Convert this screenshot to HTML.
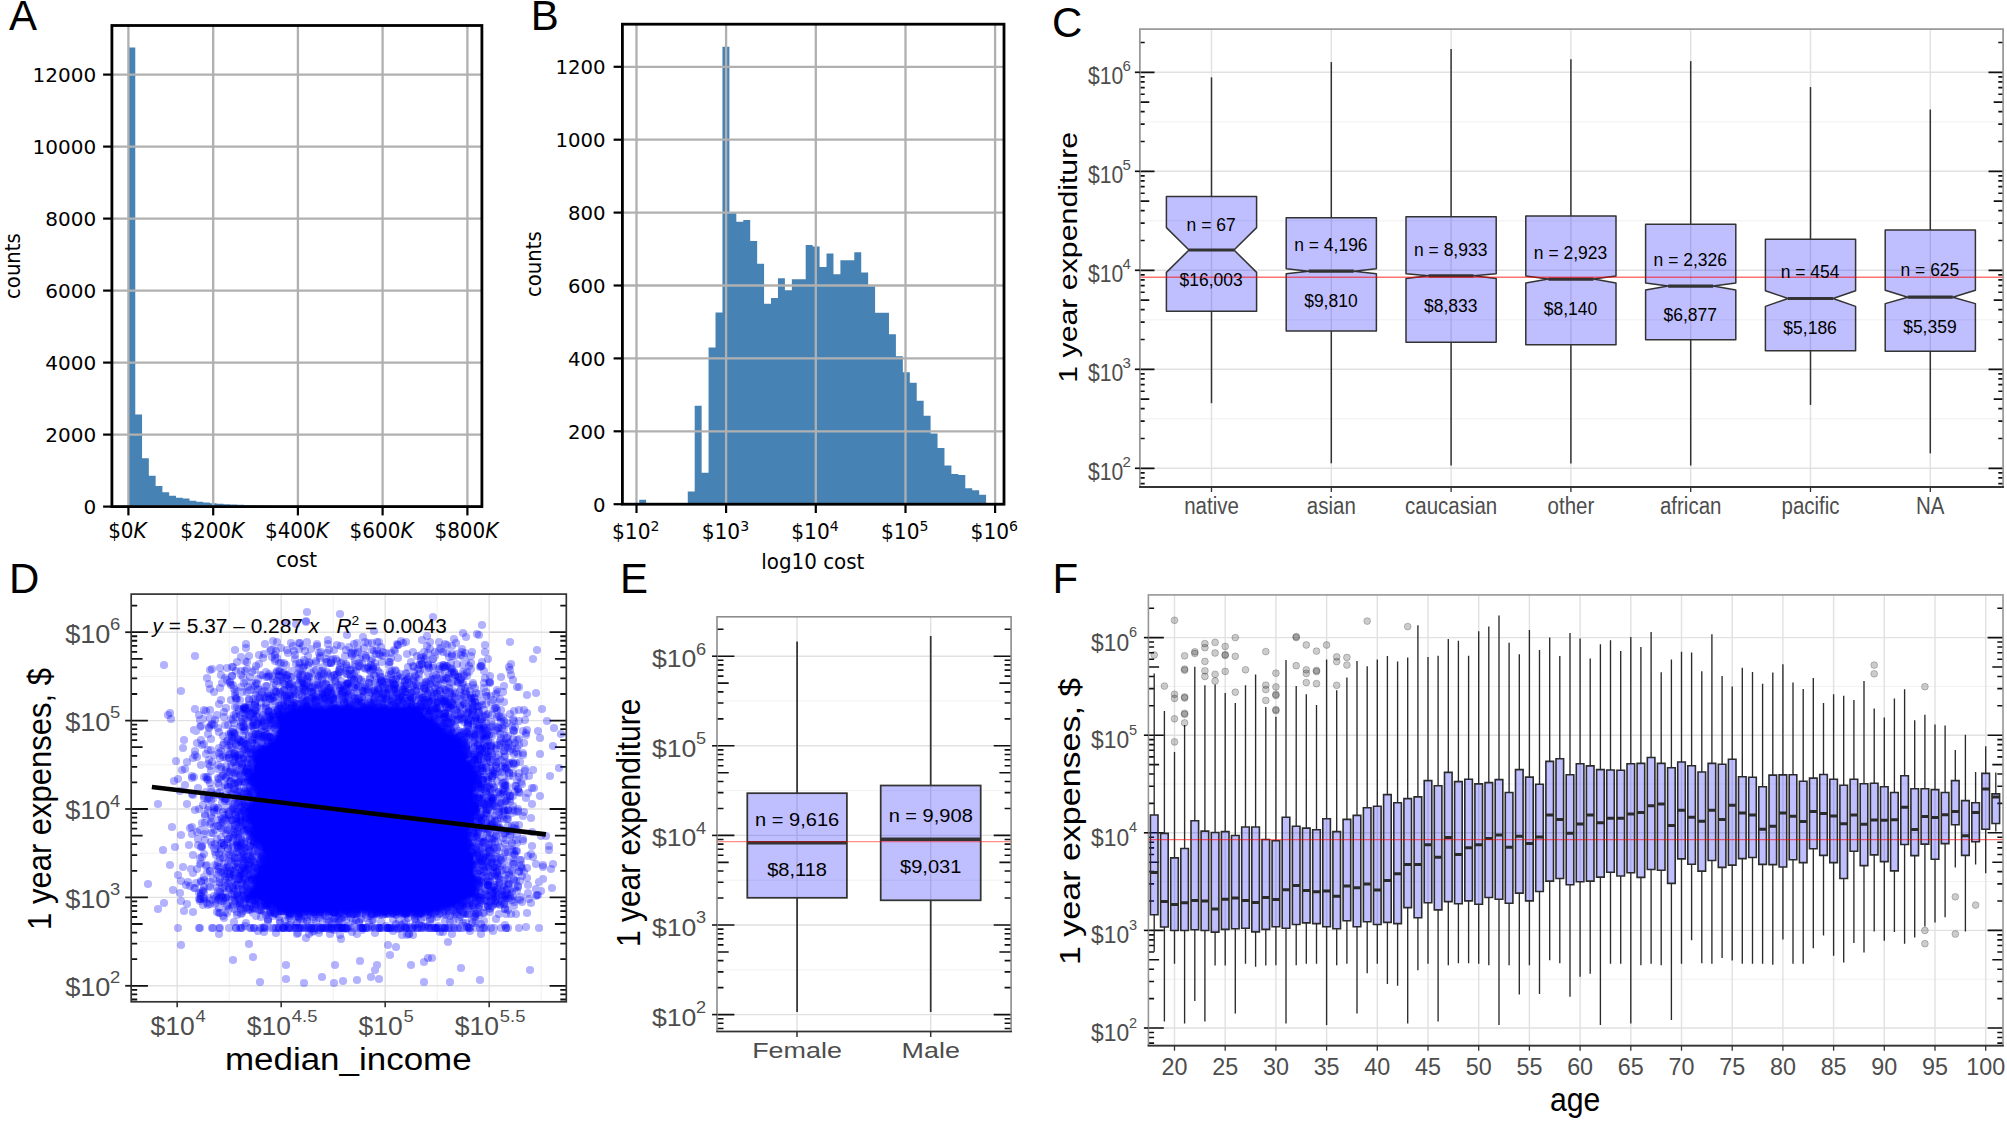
<!DOCTYPE html>
<html lang="en"><head><meta charset="utf-8"><title>Figure: expenditure distributions</title>
<style>
html,body{margin:0;padding:0;background:#fff}
svg{display:block}
text{white-space:pre}
</style></head>
<body>
<svg width="2007" height="1125" viewBox="0 0 2007 1125">
<rect width="2007" height="1125" fill="#fff"/>
<text transform="translate(9 30.4)" font-size="42" text-anchor="start" fill="#000" font-family='"Liberation Sans", sans-serif' >A</text>
<text transform="translate(530.7 30.1)" font-size="42" text-anchor="start" fill="#000" font-family='"Liberation Sans", sans-serif' >B</text>
<text transform="translate(1052 36.6)" font-size="42" text-anchor="start" fill="#000" font-family='"Liberation Sans", sans-serif' >C</text>
<text transform="translate(9 592.6)" font-size="42" text-anchor="start" fill="#000" font-family='"Liberation Sans", sans-serif' >D</text>
<text transform="translate(620 592.6)" font-size="42" text-anchor="start" fill="#000" font-family='"Liberation Sans", sans-serif' >E</text>
<text transform="translate(1052.4 592.6)" font-size="42" text-anchor="start" fill="#000" font-family='"Liberation Sans", sans-serif' >F</text>
<path d="M128.5 506.6V47.60H135.28V414.44H142.06V458.36H148.84V475.71H155.62V486.08H162.40V492.13H169.18V495.69H175.96V497.85H182.74V498.57H189.52V500.70H196.30V501.78H203.08V502.50H209.86V503.29H216.64V503.79H223.42V504.22H230.20V504.58H236.98V504.87H243.76V505.12H250.54V505.34H257.32V505.52H264.10V505.66H270.88V505.81H277.66V505.92H284.44V506.02H291.22V506.10H298.00V506.17H304.78V506.24H311.56V506.10H318.34V506.35H325.12V506.38H331.90V506.42H338.68V506.46H345.46V506.46H352.24V506.49H359.02V506.49H365.80V506.53H372.58V506.53H379.36V506.53H386.14V506.56H392.92V506.56H399.70V506.56H406.48V506.56H413.26V506.56H420.04V506.60H426.82V506.56H433.60V506.60H440.38V506.60H447.16V506.56H453.94V506.60H460.72V506.56H467.50V506.6Z" fill="#4682b4"/>
<line x1="128.4" y1="25.5" x2="128.4" y2="506.6" stroke="#b0b0b0" stroke-width="2.3" />
<line x1="213.2" y1="25.5" x2="213.2" y2="506.6" stroke="#b0b0b0" stroke-width="2.3" />
<line x1="297.9" y1="25.5" x2="297.9" y2="506.6" stroke="#b0b0b0" stroke-width="2.3" />
<line x1="382.6" y1="25.5" x2="382.6" y2="506.6" stroke="#b0b0b0" stroke-width="2.3" />
<line x1="467.4" y1="25.5" x2="467.4" y2="506.6" stroke="#b0b0b0" stroke-width="2.3" />
<line x1="111.9" y1="506.6" x2="481.9" y2="506.6" stroke="#b0b0b0" stroke-width="2.3" />
<line x1="111.9" y1="434.6" x2="481.9" y2="434.6" stroke="#b0b0b0" stroke-width="2.3" />
<line x1="111.9" y1="362.6" x2="481.9" y2="362.6" stroke="#b0b0b0" stroke-width="2.3" />
<line x1="111.9" y1="290.6" x2="481.9" y2="290.6" stroke="#b0b0b0" stroke-width="2.3" />
<line x1="111.9" y1="218.6" x2="481.9" y2="218.6" stroke="#b0b0b0" stroke-width="2.3" />
<line x1="111.9" y1="146.6" x2="481.9" y2="146.6" stroke="#b0b0b0" stroke-width="2.3" />
<line x1="111.9" y1="74.6" x2="481.9" y2="74.6" stroke="#b0b0b0" stroke-width="2.3" />
<line x1="128.4" y1="506.6" x2="128.4" y2="515.4" stroke="#000" stroke-width="2.2" />
<text transform="translate(127.4 537.5) scale(0.975 1)" font-size="20.5" text-anchor="middle" fill="#000" font-family='"DejaVu Sans", "Liberation Sans", sans-serif' >$0<tspan font-style="oblique">K</tspan></text>
<line x1="213.2" y1="506.6" x2="213.2" y2="515.4" stroke="#000" stroke-width="2.2" />
<text transform="translate(212.2 537.5) scale(0.975 1)" font-size="20.5" text-anchor="middle" fill="#000" font-family='"DejaVu Sans", "Liberation Sans", sans-serif' >$200<tspan font-style="oblique">K</tspan></text>
<line x1="297.9" y1="506.6" x2="297.9" y2="515.4" stroke="#000" stroke-width="2.2" />
<text transform="translate(296.9 537.5) scale(0.975 1)" font-size="20.5" text-anchor="middle" fill="#000" font-family='"DejaVu Sans", "Liberation Sans", sans-serif' >$400<tspan font-style="oblique">K</tspan></text>
<line x1="382.6" y1="506.6" x2="382.6" y2="515.4" stroke="#000" stroke-width="2.2" />
<text transform="translate(381.6 537.5) scale(0.975 1)" font-size="20.5" text-anchor="middle" fill="#000" font-family='"DejaVu Sans", "Liberation Sans", sans-serif' >$600<tspan font-style="oblique">K</tspan></text>
<line x1="467.4" y1="506.6" x2="467.4" y2="515.4" stroke="#000" stroke-width="2.2" />
<text transform="translate(466.4 537.5) scale(0.975 1)" font-size="20.5" text-anchor="middle" fill="#000" font-family='"DejaVu Sans", "Liberation Sans", sans-serif' >$800<tspan font-style="oblique">K</tspan></text>
<line x1="103.1" y1="506.6" x2="111.9" y2="506.6" stroke="#000" stroke-width="2.2" />
<text transform="translate(96.2 514.1)" font-size="20" text-anchor="end" fill="#000" font-family='"DejaVu Sans", "Liberation Sans", sans-serif' >0</text>
<line x1="103.1" y1="434.6" x2="111.9" y2="434.6" stroke="#000" stroke-width="2.2" />
<text transform="translate(96.2 442.1)" font-size="20" text-anchor="end" fill="#000" font-family='"DejaVu Sans", "Liberation Sans", sans-serif' >2000</text>
<line x1="103.1" y1="362.6" x2="111.9" y2="362.6" stroke="#000" stroke-width="2.2" />
<text transform="translate(96.2 370.1)" font-size="20" text-anchor="end" fill="#000" font-family='"DejaVu Sans", "Liberation Sans", sans-serif' >4000</text>
<line x1="103.1" y1="290.6" x2="111.9" y2="290.6" stroke="#000" stroke-width="2.2" />
<text transform="translate(96.2 298.1)" font-size="20" text-anchor="end" fill="#000" font-family='"DejaVu Sans", "Liberation Sans", sans-serif' >6000</text>
<line x1="103.1" y1="218.6" x2="111.9" y2="218.6" stroke="#000" stroke-width="2.2" />
<text transform="translate(96.2 226.1)" font-size="20" text-anchor="end" fill="#000" font-family='"DejaVu Sans", "Liberation Sans", sans-serif' >8000</text>
<line x1="103.1" y1="146.6" x2="111.9" y2="146.6" stroke="#000" stroke-width="2.2" />
<text transform="translate(96.2 154.1)" font-size="20" text-anchor="end" fill="#000" font-family='"DejaVu Sans", "Liberation Sans", sans-serif' >10000</text>
<line x1="103.1" y1="74.6" x2="111.9" y2="74.6" stroke="#000" stroke-width="2.2" />
<text transform="translate(96.2 82.1)" font-size="20" text-anchor="end" fill="#000" font-family='"DejaVu Sans", "Liberation Sans", sans-serif' >12000</text>
<rect x="111.9" y="25.5" width="370" height="481.1" fill="none" stroke="#000" stroke-width="2.8" />
<text transform="translate(296.5 566.7) scale(0.97 1)" font-size="20.5" text-anchor="middle" fill="#000" font-family='"DejaVu Sans", "Liberation Sans", sans-serif' >cost</text>
<text transform="translate(19.7 266.1) rotate(-90) scale(0.96 1)" font-size="20.5" text-anchor="middle" fill="#000" font-family='"DejaVu Sans", "Liberation Sans", sans-serif' >counts</text>
<path d="M639.2 504.2V499.83H646.14V504.20H653.08V503.47H660.01V503.84H666.95V504.20H673.89V503.84H680.83V503.47H687.77V491.44H694.70V405.78H701.64V472.85H708.58V347.46H715.52V312.47H722.46V46.75H729.39V212.60H736.33V221.71H743.27V219.89H750.21V241.03H757.15V263.63H764.08V303.72H771.02V297.89H777.96V278.21H784.90V290.24H791.84V279.30H798.77V279.30H805.71V245.04H812.65V246.50H819.59V266.91H826.53V253.42H833.46V274.20H840.40V260.35H847.34V260.35H854.28V252.33H861.22V272.38H868.15V286.23H875.09V312.84H882.03V312.84H888.97V334.34H895.91V356.21H902.84V372.25H909.78V382.82H916.72V400.68H923.66V415.63H930.60V433.49H937.53V448.07H944.47V465.56H951.41V473.95H958.35V475.04H965.29V488.16H972.22V490.35H979.16V494.72H986.10V504.2Z" fill="#4682b4"/>
<line x1="636.5" y1="24.2" x2="636.5" y2="504.2" stroke="#b0b0b0" stroke-width="2.3" />
<line x1="726.1" y1="24.2" x2="726.1" y2="504.2" stroke="#b0b0b0" stroke-width="2.3" />
<line x1="815.8" y1="24.2" x2="815.8" y2="504.2" stroke="#b0b0b0" stroke-width="2.3" />
<line x1="905.5" y1="24.2" x2="905.5" y2="504.2" stroke="#b0b0b0" stroke-width="2.3" />
<line x1="995.1" y1="24.2" x2="995.1" y2="504.2" stroke="#b0b0b0" stroke-width="2.3" />
<line x1="622.4" y1="504.2" x2="1004" y2="504.2" stroke="#b0b0b0" stroke-width="2.3" />
<line x1="622.4" y1="431.3" x2="1004" y2="431.3" stroke="#b0b0b0" stroke-width="2.3" />
<line x1="622.4" y1="358.4" x2="1004" y2="358.4" stroke="#b0b0b0" stroke-width="2.3" />
<line x1="622.4" y1="285.5" x2="1004" y2="285.5" stroke="#b0b0b0" stroke-width="2.3" />
<line x1="622.4" y1="212.6" x2="1004" y2="212.6" stroke="#b0b0b0" stroke-width="2.3" />
<line x1="622.4" y1="139.7" x2="1004" y2="139.7" stroke="#b0b0b0" stroke-width="2.3" />
<line x1="622.4" y1="66.8" x2="1004" y2="66.8" stroke="#b0b0b0" stroke-width="2.3" />
<line x1="636.5" y1="504.2" x2="636.5" y2="513" stroke="#000" stroke-width="2.2" />
<text transform="translate(635.7 538.5) scale(0.985 1)" font-size="20.5" text-anchor="middle" fill="#000" font-family='"DejaVu Sans", "Liberation Sans", sans-serif' >$10<tspan font-size="14.3" dy="-7.8">2</tspan></text>
<line x1="726.1" y1="504.2" x2="726.1" y2="513" stroke="#000" stroke-width="2.2" />
<text transform="translate(725.4 538.5) scale(0.985 1)" font-size="20.5" text-anchor="middle" fill="#000" font-family='"DejaVu Sans", "Liberation Sans", sans-serif' >$10<tspan font-size="14.3" dy="-7.8">3</tspan></text>
<line x1="815.8" y1="504.2" x2="815.8" y2="513" stroke="#000" stroke-width="2.2" />
<text transform="translate(815 538.5) scale(0.985 1)" font-size="20.5" text-anchor="middle" fill="#000" font-family='"DejaVu Sans", "Liberation Sans", sans-serif' >$10<tspan font-size="14.3" dy="-7.8">4</tspan></text>
<line x1="905.5" y1="504.2" x2="905.5" y2="513" stroke="#000" stroke-width="2.2" />
<text transform="translate(904.7 538.5) scale(0.985 1)" font-size="20.5" text-anchor="middle" fill="#000" font-family='"DejaVu Sans", "Liberation Sans", sans-serif' >$10<tspan font-size="14.3" dy="-7.8">5</tspan></text>
<line x1="995.1" y1="504.2" x2="995.1" y2="513" stroke="#000" stroke-width="2.2" />
<text transform="translate(994.3 538.5) scale(0.985 1)" font-size="20.5" text-anchor="middle" fill="#000" font-family='"DejaVu Sans", "Liberation Sans", sans-serif' >$10<tspan font-size="14.3" dy="-7.8">6</tspan></text>
<line x1="613.6" y1="504.2" x2="622.4" y2="504.2" stroke="#000" stroke-width="2.2" />
<text transform="translate(605.6 511.7) scale(0.985 1)" font-size="20" text-anchor="end" fill="#000" font-family='"DejaVu Sans", "Liberation Sans", sans-serif' >0</text>
<line x1="613.6" y1="431.3" x2="622.4" y2="431.3" stroke="#000" stroke-width="2.2" />
<text transform="translate(605.6 438.8) scale(0.985 1)" font-size="20" text-anchor="end" fill="#000" font-family='"DejaVu Sans", "Liberation Sans", sans-serif' >200</text>
<line x1="613.6" y1="358.4" x2="622.4" y2="358.4" stroke="#000" stroke-width="2.2" />
<text transform="translate(605.6 365.9) scale(0.985 1)" font-size="20" text-anchor="end" fill="#000" font-family='"DejaVu Sans", "Liberation Sans", sans-serif' >400</text>
<line x1="613.6" y1="285.5" x2="622.4" y2="285.5" stroke="#000" stroke-width="2.2" />
<text transform="translate(605.6 293) scale(0.985 1)" font-size="20" text-anchor="end" fill="#000" font-family='"DejaVu Sans", "Liberation Sans", sans-serif' >600</text>
<line x1="613.6" y1="212.6" x2="622.4" y2="212.6" stroke="#000" stroke-width="2.2" />
<text transform="translate(605.6 220.1) scale(0.985 1)" font-size="20" text-anchor="end" fill="#000" font-family='"DejaVu Sans", "Liberation Sans", sans-serif' >800</text>
<line x1="613.6" y1="139.7" x2="622.4" y2="139.7" stroke="#000" stroke-width="2.2" />
<text transform="translate(605.6 147.2) scale(0.985 1)" font-size="20" text-anchor="end" fill="#000" font-family='"DejaVu Sans", "Liberation Sans", sans-serif' >1000</text>
<line x1="613.6" y1="66.8" x2="622.4" y2="66.8" stroke="#000" stroke-width="2.2" />
<text transform="translate(605.6 74.3) scale(0.985 1)" font-size="20" text-anchor="end" fill="#000" font-family='"DejaVu Sans", "Liberation Sans", sans-serif' >1200</text>
<rect x="622.4" y="24.2" width="381.6" height="480" fill="none" stroke="#000" stroke-width="2.8" />
<text transform="translate(812.8 569) scale(0.97 1)" font-size="20.5" text-anchor="middle" fill="#000" font-family='"DejaVu Sans", "Liberation Sans", sans-serif' >log10 cost</text>
<text transform="translate(541.2 264.2) rotate(-90) scale(0.96 1)" font-size="20.5" text-anchor="middle" fill="#000" font-family='"DejaVu Sans", "Liberation Sans", sans-serif' >counts</text>
<rect x="1139.9" y="29.1" width="863.2" height="457.9" fill="#fff" stroke="none" stroke-width="1" />
<line x1="1139.9" y1="418.8" x2="2003.1" y2="418.8" stroke="#eeeeee" stroke-width="0.8" />
<line x1="1139.9" y1="319.8" x2="2003.1" y2="319.8" stroke="#eeeeee" stroke-width="0.8" />
<line x1="1139.9" y1="220.8" x2="2003.1" y2="220.8" stroke="#eeeeee" stroke-width="0.8" />
<line x1="1139.9" y1="121.8" x2="2003.1" y2="121.8" stroke="#eeeeee" stroke-width="0.8" />
<line x1="1139.9" y1="468.3" x2="2003.1" y2="468.3" stroke="#e1e1e1" stroke-width="1.4" />
<line x1="1139.9" y1="369.3" x2="2003.1" y2="369.3" stroke="#e1e1e1" stroke-width="1.4" />
<line x1="1139.9" y1="270.3" x2="2003.1" y2="270.3" stroke="#e1e1e1" stroke-width="1.4" />
<line x1="1139.9" y1="171.3" x2="2003.1" y2="171.3" stroke="#e1e1e1" stroke-width="1.4" />
<line x1="1139.9" y1="72.3" x2="2003.1" y2="72.3" stroke="#e1e1e1" stroke-width="1.4" />
<line x1="1211.5" y1="29.1" x2="1211.5" y2="487" stroke="#e1e1e1" stroke-width="1.4" />
<line x1="1331.3" y1="29.1" x2="1331.3" y2="487" stroke="#e1e1e1" stroke-width="1.4" />
<line x1="1451.1" y1="29.1" x2="1451.1" y2="487" stroke="#e1e1e1" stroke-width="1.4" />
<line x1="1570.9" y1="29.1" x2="1570.9" y2="487" stroke="#e1e1e1" stroke-width="1.4" />
<line x1="1690.7" y1="29.1" x2="1690.7" y2="487" stroke="#e1e1e1" stroke-width="1.4" />
<line x1="1810.5" y1="29.1" x2="1810.5" y2="487" stroke="#e1e1e1" stroke-width="1.4" />
<line x1="1930.3" y1="29.1" x2="1930.3" y2="487" stroke="#e1e1e1" stroke-width="1.4" />
<path d="M1139.9 483.64h4.8M1139.9 477.89h4.8M1139.9 472.83h4.8M1139.9 468.30h14.6M1139.9 438.50h4.8M1139.9 421.06h4.8M1139.9 408.70h4.8M1139.9 399.10h9.4M1139.9 391.26h4.8M1139.9 384.64h4.8M1139.9 378.89h4.8M1139.9 373.83h4.8M1139.9 369.30h14.6M1139.9 339.50h4.8M1139.9 322.06h4.8M1139.9 309.70h4.8M1139.9 300.10h9.4M1139.9 292.26h4.8M1139.9 285.64h4.8M1139.9 279.89h4.8M1139.9 274.83h4.8M1139.9 270.30h14.6M1139.9 240.50h4.8M1139.9 223.06h4.8M1139.9 210.70h4.8M1139.9 201.10h9.4M1139.9 193.26h4.8M1139.9 186.64h4.8M1139.9 180.89h4.8M1139.9 175.83h4.8M1139.9 171.30h14.6M1139.9 141.50h4.8M1139.9 124.06h4.8M1139.9 111.70h4.8M1139.9 102.10h9.4M1139.9 94.26h4.8M1139.9 87.64h4.8M1139.9 81.89h4.8M1139.9 76.83h4.8M1139.9 72.30h14.6M1139.9 42.50h4.8" stroke="#111" stroke-width="1.7" fill="none"/>
<path d="M2003.1 483.64h-4.8M2003.1 477.89h-4.8M2003.1 472.83h-4.8M2003.1 468.30h-14.6M2003.1 438.50h-4.8M2003.1 421.06h-4.8M2003.1 408.70h-4.8M2003.1 399.10h-9.4M2003.1 391.26h-4.8M2003.1 384.64h-4.8M2003.1 378.89h-4.8M2003.1 373.83h-4.8M2003.1 369.30h-14.6M2003.1 339.50h-4.8M2003.1 322.06h-4.8M2003.1 309.70h-4.8M2003.1 300.10h-9.4M2003.1 292.26h-4.8M2003.1 285.64h-4.8M2003.1 279.89h-4.8M2003.1 274.83h-4.8M2003.1 270.30h-14.6M2003.1 240.50h-4.8M2003.1 223.06h-4.8M2003.1 210.70h-4.8M2003.1 201.10h-9.4M2003.1 193.26h-4.8M2003.1 186.64h-4.8M2003.1 180.89h-4.8M2003.1 175.83h-4.8M2003.1 171.30h-14.6M2003.1 141.50h-4.8M2003.1 124.06h-4.8M2003.1 111.70h-4.8M2003.1 102.10h-9.4M2003.1 94.26h-4.8M2003.1 87.64h-4.8M2003.1 81.89h-4.8M2003.1 76.83h-4.8M2003.1 72.30h-14.6M2003.1 42.50h-4.8" stroke="#111" stroke-width="1.7" fill="none"/>
<line x1="1211.5" y1="77.3" x2="1211.5" y2="196.4" stroke="#333" stroke-width="1.5" />
<line x1="1211.5" y1="311.2" x2="1211.5" y2="403.2" stroke="#333" stroke-width="1.5" />
<path d="M1166.4 196.4L1256.6 196.4L1256.6 227.6L1234 250L1256.6 272.4L1256.6 311.2L1166.4 311.2L1166.4 272.4L1189 250L1166.4 227.6Z" fill="#0000ff" fill-opacity="0.25" stroke="#333" stroke-width="1.5" stroke-linejoin="round"/>
<line x1="1189" y1="250" x2="1234" y2="250" stroke="#333" stroke-width="3.2" />
<line x1="1331.3" y1="62.1" x2="1331.3" y2="217.8" stroke="#333" stroke-width="1.5" />
<line x1="1331.3" y1="331.1" x2="1331.3" y2="463.3" stroke="#333" stroke-width="1.5" />
<path d="M1286.2 217.8L1376.4 217.8L1376.4 268.8L1353.8 271.2L1376.4 273.7L1376.4 331.1L1286.2 331.1L1286.2 273.7L1308.8 271.2L1286.2 268.8Z" fill="#0000ff" fill-opacity="0.25" stroke="#333" stroke-width="1.5" stroke-linejoin="round"/>
<line x1="1308.8" y1="271.2" x2="1353.8" y2="271.2" stroke="#333" stroke-width="3.2" />
<line x1="1451.1" y1="49" x2="1451.1" y2="216.8" stroke="#333" stroke-width="1.5" />
<line x1="1451.1" y1="342.2" x2="1451.1" y2="465.4" stroke="#333" stroke-width="1.5" />
<path d="M1406 216.8L1496.2 216.8L1496.2 273.7L1473.6 275.8L1496.2 278.4L1496.2 342.2L1406 342.2L1406 278.4L1428.5 275.8L1406 273.7Z" fill="#0000ff" fill-opacity="0.25" stroke="#333" stroke-width="1.5" stroke-linejoin="round"/>
<line x1="1428.5" y1="275.8" x2="1473.6" y2="275.8" stroke="#333" stroke-width="3.2" />
<line x1="1570.9" y1="59.3" x2="1570.9" y2="216.1" stroke="#333" stroke-width="1.5" />
<line x1="1570.9" y1="344.8" x2="1570.9" y2="463.4" stroke="#333" stroke-width="1.5" />
<path d="M1525.8 216.1L1616 216.1L1616 276L1593.5 279.1L1616 283L1616 344.8L1525.8 344.8L1525.8 283L1548.4 279.1L1525.8 276Z" fill="#0000ff" fill-opacity="0.25" stroke="#333" stroke-width="1.5" stroke-linejoin="round"/>
<line x1="1548.4" y1="279.1" x2="1593.5" y2="279.1" stroke="#333" stroke-width="3.2" />
<line x1="1690.7" y1="61.1" x2="1690.7" y2="224.2" stroke="#333" stroke-width="1.5" />
<line x1="1690.7" y1="339.7" x2="1690.7" y2="465.5" stroke="#333" stroke-width="1.5" />
<path d="M1645.6 224.2L1735.8 224.2L1735.8 283L1713.2 286.1L1735.8 290L1735.8 339.7L1645.6 339.7L1645.6 290L1668.2 286.1L1645.6 283Z" fill="#0000ff" fill-opacity="0.25" stroke="#333" stroke-width="1.5" stroke-linejoin="round"/>
<line x1="1668.2" y1="286.1" x2="1713.2" y2="286.1" stroke="#333" stroke-width="3.2" />
<line x1="1810.5" y1="87.1" x2="1810.5" y2="239.2" stroke="#333" stroke-width="1.5" />
<line x1="1810.5" y1="350.8" x2="1810.5" y2="404.9" stroke="#333" stroke-width="1.5" />
<path d="M1765.4 239.2L1855.6 239.2L1855.6 290.7L1833 298.5L1855.6 306.4L1855.6 350.8L1765.4 350.8L1765.4 306.4L1788 298.5L1765.4 290.7Z" fill="#0000ff" fill-opacity="0.25" stroke="#333" stroke-width="1.5" stroke-linejoin="round"/>
<line x1="1788" y1="298.5" x2="1833" y2="298.5" stroke="#333" stroke-width="3.2" />
<line x1="1930.3" y1="109.5" x2="1930.3" y2="230.1" stroke="#333" stroke-width="1.5" />
<line x1="1930.3" y1="351.3" x2="1930.3" y2="453.4" stroke="#333" stroke-width="1.5" />
<path d="M1885.2 230.1L1975.4 230.1L1975.4 290.2L1952.8 297.2L1975.4 303.6L1975.4 351.3L1885.2 351.3L1885.2 303.6L1907.8 297.2L1885.2 290.2Z" fill="#0000ff" fill-opacity="0.25" stroke="#333" stroke-width="1.5" stroke-linejoin="round"/>
<line x1="1907.8" y1="297.2" x2="1952.8" y2="297.2" stroke="#333" stroke-width="3.2" />
<line x1="1139.9" y1="277.3" x2="2003.1" y2="277.3" stroke="#ff0000" stroke-opacity="0.55" stroke-width="1.5"/>
<text transform="translate(1211.1 230.5) scale(0.935 1)" font-size="18.7" text-anchor="middle" fill="#000" font-family='"Liberation Sans", sans-serif' >n = 67</text>
<text transform="translate(1211.1 286.3) scale(0.935 1)" font-size="18.7" text-anchor="middle" fill="#000" font-family='"Liberation Sans", sans-serif' >$16,003</text>
<text transform="translate(1330.9 250.8) scale(0.935 1)" font-size="18.7" text-anchor="middle" fill="#000" font-family='"Liberation Sans", sans-serif' >n = 4,196</text>
<text transform="translate(1330.9 307.2) scale(0.935 1)" font-size="18.7" text-anchor="middle" fill="#000" font-family='"Liberation Sans", sans-serif' >$9,810</text>
<text transform="translate(1450.7 255.5) scale(0.935 1)" font-size="18.7" text-anchor="middle" fill="#000" font-family='"Liberation Sans", sans-serif' >n = 8,933</text>
<text transform="translate(1450.7 311.5) scale(0.935 1)" font-size="18.7" text-anchor="middle" fill="#000" font-family='"Liberation Sans", sans-serif' >$8,833</text>
<text transform="translate(1570.5 259.1) scale(0.935 1)" font-size="18.7" text-anchor="middle" fill="#000" font-family='"Liberation Sans", sans-serif' >n = 2,923</text>
<text transform="translate(1570.5 314.5) scale(0.935 1)" font-size="18.7" text-anchor="middle" fill="#000" font-family='"Liberation Sans", sans-serif' >$8,140</text>
<text transform="translate(1690.3 266.3) scale(0.935 1)" font-size="18.7" text-anchor="middle" fill="#000" font-family='"Liberation Sans", sans-serif' >n = 2,326</text>
<text transform="translate(1690.3 321.4) scale(0.935 1)" font-size="18.7" text-anchor="middle" fill="#000" font-family='"Liberation Sans", sans-serif' >$6,877</text>
<text transform="translate(1810.1 278.1) scale(0.935 1)" font-size="18.7" text-anchor="middle" fill="#000" font-family='"Liberation Sans", sans-serif' >n = 454</text>
<text transform="translate(1810.1 333.5) scale(0.935 1)" font-size="18.7" text-anchor="middle" fill="#000" font-family='"Liberation Sans", sans-serif' >$5,186</text>
<text transform="translate(1929.9 276.3) scale(0.935 1)" font-size="18.7" text-anchor="middle" fill="#000" font-family='"Liberation Sans", sans-serif' >n = 625</text>
<text transform="translate(1929.9 332.5) scale(0.935 1)" font-size="18.7" text-anchor="middle" fill="#000" font-family='"Liberation Sans", sans-serif' >$5,359</text>
<rect x="1139.9" y="29.1" width="863.2" height="457.9" fill="none" stroke="#969696" stroke-width="1.7" />
<path d="M1139.1000000000001 487.0H2003.8999999999999" fill="none" stroke="#333" stroke-width="1.8"/>
<line x1="1211.5" y1="487" x2="1211.5" y2="492" stroke="#333" stroke-width="1.3" />
<text transform="translate(1211.5 513.8) scale(0.89 1)" font-size="23" text-anchor="middle" fill="#4d4d4d" font-family='"Liberation Sans", sans-serif' >native</text>
<line x1="1331.3" y1="487" x2="1331.3" y2="492" stroke="#333" stroke-width="1.3" />
<text transform="translate(1331.3 513.8) scale(0.89 1)" font-size="23" text-anchor="middle" fill="#4d4d4d" font-family='"Liberation Sans", sans-serif' >asian</text>
<line x1="1451.1" y1="487" x2="1451.1" y2="492" stroke="#333" stroke-width="1.3" />
<text transform="translate(1451.1 513.8) scale(0.89 1)" font-size="23" text-anchor="middle" fill="#4d4d4d" font-family='"Liberation Sans", sans-serif' >caucasian</text>
<line x1="1570.9" y1="487" x2="1570.9" y2="492" stroke="#333" stroke-width="1.3" />
<text transform="translate(1570.9 513.8) scale(0.89 1)" font-size="23" text-anchor="middle" fill="#4d4d4d" font-family='"Liberation Sans", sans-serif' >other</text>
<line x1="1690.7" y1="487" x2="1690.7" y2="492" stroke="#333" stroke-width="1.3" />
<text transform="translate(1690.7 513.8) scale(0.89 1)" font-size="23" text-anchor="middle" fill="#4d4d4d" font-family='"Liberation Sans", sans-serif' >african</text>
<line x1="1810.5" y1="487" x2="1810.5" y2="492" stroke="#333" stroke-width="1.3" />
<text transform="translate(1810.5 513.8) scale(0.89 1)" font-size="23" text-anchor="middle" fill="#4d4d4d" font-family='"Liberation Sans", sans-serif' >pacific</text>
<line x1="1930.3" y1="487" x2="1930.3" y2="492" stroke="#333" stroke-width="1.3" />
<text transform="translate(1930.3 513.8) scale(0.89 1)" font-size="23" text-anchor="middle" fill="#4d4d4d" font-family='"Liberation Sans", sans-serif' >NA</text>
<line x1="1134.9" y1="468.3" x2="1139.9" y2="468.3" stroke="#111" stroke-width="1.7" />
<text transform="translate(1123.2 480.3) scale(0.866 1)" font-size="24.4" text-anchor="end" fill="#4d4d4d" font-family='"Liberation Sans", sans-serif' >$10</text>
<text transform="translate(1122.6 467)" font-size="15" text-anchor="start" fill="#4d4d4d" font-family='"Liberation Sans", sans-serif' >2</text>
<line x1="1134.9" y1="369.3" x2="1139.9" y2="369.3" stroke="#111" stroke-width="1.7" />
<text transform="translate(1123.2 381.3) scale(0.866 1)" font-size="24.4" text-anchor="end" fill="#4d4d4d" font-family='"Liberation Sans", sans-serif' >$10</text>
<text transform="translate(1122.6 368)" font-size="15" text-anchor="start" fill="#4d4d4d" font-family='"Liberation Sans", sans-serif' >3</text>
<line x1="1134.9" y1="270.3" x2="1139.9" y2="270.3" stroke="#111" stroke-width="1.7" />
<text transform="translate(1123.2 282.3) scale(0.866 1)" font-size="24.4" text-anchor="end" fill="#4d4d4d" font-family='"Liberation Sans", sans-serif' >$10</text>
<text transform="translate(1122.6 269)" font-size="15" text-anchor="start" fill="#4d4d4d" font-family='"Liberation Sans", sans-serif' >4</text>
<line x1="1134.9" y1="171.3" x2="1139.9" y2="171.3" stroke="#111" stroke-width="1.7" />
<text transform="translate(1123.2 183.3) scale(0.866 1)" font-size="24.4" text-anchor="end" fill="#4d4d4d" font-family='"Liberation Sans", sans-serif' >$10</text>
<text transform="translate(1122.6 170)" font-size="15" text-anchor="start" fill="#4d4d4d" font-family='"Liberation Sans", sans-serif' >5</text>
<line x1="1134.9" y1="72.3" x2="1139.9" y2="72.3" stroke="#111" stroke-width="1.7" />
<text transform="translate(1123.2 84.3) scale(0.866 1)" font-size="24.4" text-anchor="end" fill="#4d4d4d" font-family='"Liberation Sans", sans-serif' >$10</text>
<text transform="translate(1122.6 71)" font-size="15" text-anchor="start" fill="#4d4d4d" font-family='"Liberation Sans", sans-serif' >6</text>
<text transform="translate(1076.8 257.3) rotate(-90) scale(1 0.84)" font-size="30.3" text-anchor="middle" fill="#000" font-family='"Liberation Sans", sans-serif' >1 year expenditure</text>
<rect x="131.2" y="594.1" width="435.1" height="407.7" fill="#fff" stroke="none" stroke-width="1" />
<line x1="131.2" y1="941.6" x2="566.3" y2="941.6" stroke="#eeeeee" stroke-width="0.8" />
<line x1="131.2" y1="853.2" x2="566.3" y2="853.2" stroke="#eeeeee" stroke-width="0.8" />
<line x1="131.2" y1="764.8" x2="566.3" y2="764.8" stroke="#eeeeee" stroke-width="0.8" />
<line x1="131.2" y1="676.4" x2="566.3" y2="676.4" stroke="#eeeeee" stroke-width="0.8" />
<line x1="229.2" y1="594.1" x2="229.2" y2="1001.8" stroke="#eeeeee" stroke-width="0.8" />
<line x1="333.2" y1="594.1" x2="333.2" y2="1001.8" stroke="#eeeeee" stroke-width="0.8" />
<line x1="437.2" y1="594.1" x2="437.2" y2="1001.8" stroke="#eeeeee" stroke-width="0.8" />
<line x1="541.2" y1="594.1" x2="541.2" y2="1001.8" stroke="#eeeeee" stroke-width="0.8" />
<line x1="131.2" y1="985.8" x2="566.3" y2="985.8" stroke="#e1e1e1" stroke-width="1.4" />
<line x1="131.2" y1="897.4" x2="566.3" y2="897.4" stroke="#e1e1e1" stroke-width="1.4" />
<line x1="131.2" y1="809" x2="566.3" y2="809" stroke="#e1e1e1" stroke-width="1.4" />
<line x1="131.2" y1="720.6" x2="566.3" y2="720.6" stroke="#e1e1e1" stroke-width="1.4" />
<line x1="131.2" y1="632.2" x2="566.3" y2="632.2" stroke="#e1e1e1" stroke-width="1.4" />
<line x1="177.2" y1="594.1" x2="177.2" y2="1001.8" stroke="#e1e1e1" stroke-width="1.4" />
<line x1="281.2" y1="594.1" x2="281.2" y2="1001.8" stroke="#e1e1e1" stroke-width="1.4" />
<line x1="385.2" y1="594.1" x2="385.2" y2="1001.8" stroke="#e1e1e1" stroke-width="1.4" />
<line x1="489.2" y1="594.1" x2="489.2" y2="1001.8" stroke="#e1e1e1" stroke-width="1.4" />
<path d="M131.2 999.49h6M131.2 994.37h6M131.2 989.84h6M131.2 985.80h16.7M131.2 959.19h6M131.2 943.62h6M131.2 932.58h6M131.2 924.01h11.4M131.2 917.01h6M131.2 911.09h6M131.2 905.97h6M131.2 901.44h6M131.2 897.40h16.7M131.2 870.79h6M131.2 855.22h6M131.2 844.18h6M131.2 835.61h11.4M131.2 828.61h6M131.2 822.69h6M131.2 817.57h6M131.2 813.04h6M131.2 809.00h16.7M131.2 782.39h6M131.2 766.82h6M131.2 755.78h6M131.2 747.21h11.4M131.2 740.21h6M131.2 734.29h6M131.2 729.17h6M131.2 724.64h6M131.2 720.60h16.7M131.2 693.99h6M131.2 678.42h6M131.2 667.38h6M131.2 658.81h11.4M131.2 651.81h6M131.2 645.89h6M131.2 640.77h6M131.2 636.24h6M131.2 632.20h16.7M131.2 605.59h6" stroke="#111" stroke-width="1.8" fill="none"/>
<path d="M566.3 999.49h-6M566.3 994.37h-6M566.3 989.84h-6M566.3 985.80h-16.7M566.3 959.19h-6M566.3 943.62h-6M566.3 932.58h-6M566.3 924.01h-11.4M566.3 917.01h-6M566.3 911.09h-6M566.3 905.97h-6M566.3 901.44h-6M566.3 897.40h-16.7M566.3 870.79h-6M566.3 855.22h-6M566.3 844.18h-6M566.3 835.61h-11.4M566.3 828.61h-6M566.3 822.69h-6M566.3 817.57h-6M566.3 813.04h-6M566.3 809.00h-16.7M566.3 782.39h-6M566.3 766.82h-6M566.3 755.78h-6M566.3 747.21h-11.4M566.3 740.21h-6M566.3 734.29h-6M566.3 729.17h-6M566.3 724.64h-6M566.3 720.60h-16.7M566.3 693.99h-6M566.3 678.42h-6M566.3 667.38h-6M566.3 658.81h-11.4M566.3 651.81h-6M566.3 645.89h-6M566.3 640.77h-6M566.3 636.24h-6M566.3 632.20h-16.7M566.3 605.59h-6" stroke="#111" stroke-width="1.8" fill="none"/>
<filter id="soft" x="-5%" y="-5%" width="110%" height="110%"><feGaussianBlur stdDeviation="2.2"/></filter>
<path d="M292.4 706.1L289.3 708.1L286.2 710.1L283.1 712.1L280 714.1L277.1 716.1L277.1 718.1L277.3 720.1L277.8 722.1L278.3 724.1L278.8 726.1L278.9 728.1L278.8 730.1L278.4 732.1L277.9 734.1L277.1 736.1L276.2 738.1L273.4 740.1L270.4 742.1L267.4 744.1L264.8 746.1L262.3 748.1L260.1 750.1L258 752.1L256 754.1L254.4 756.1L254.6 758.1L255.2 760.1L254.3 762.1L253.4 764.1L252.5 766.1L251.8 768.1L251.1 770.1L250.4 772.1L249.5 774.1L248.6 776.1L247.9 778.1L248.6 780.1L250 782.1L251.4 784.1L252.8 786.1L253.9 788.1L254.9 790.1L255.6 792.1L256.4 794.1L257 796.1L256.2 798.1L254.8 800.1L253.1 802.1L251.5 804.1L250 806.1L248.5 808.1L247.4 810.1L246.8 812.1L246.2 814.1L247 816.1L247.8 818.1L248.5 820.1L249.1 822.1L249.8 824.1L250.4 826.1L250.9 828.1L251 830.1L251.2 832.1L251.4 834.1L252.8 836.1L254.1 838.1L255.5 840.1L257 842.1L258.3 844.1L259.8 846.1L261.1 848.1L262.4 850.1L263.5 852.1L263.5 854.1L263.6 856.1L263.6 858.1L263.3 860.1L262.9 862.1L260.8 864.1L259.9 866.1L258.6 868.1L257.4 870.1L256.2 872.1L255.1 874.1L254.1 876.1L253.3 878.1L252.6 880.1L253.3 882.1L252.2 884.1L251.1 886.1L250.1 888.1L249.3 890.1L248.5 892.1L248 894.1L247.8 896.1L248.8 898.1L251.3 900.1L255.2 902.1L260.5 904.1L266.3 906.1L272 908.1L277.5 910.1L282.9 912.1L287.9 914.1L431.4 914.1L437.5 912.1L444 910.1L450.5 908.1L457.2 906.1L463.6 904.1L469.1 902.1L473 900.1L476.5 898.1L477.8 896.1L477.6 894.1L477.4 892.1L477.2 890.1L476.8 888.1L476.4 886.1L476.2 884.1L475.9 882.1L475.5 880.1L475.1 878.1L474.3 876.1L473.2 874.1L471.9 872.1L472.8 870.1L473.8 868.1L475.1 866.1L476.5 864.1L475.5 862.1L474.8 860.1L474.4 858.1L474.6 856.1L475 854.1L473.2 852.1L471.4 850.1L469.6 848.1L468.1 846.1L469 844.1L469.8 842.1L470.2 840.1L470.2 838.1L470.2 836.1L470.1 834.1L470 832.1L470 830.1L470.1 828.1L470.4 826.1L471.4 824.1L472.3 822.1L473.2 820.1L474.2 818.1L475.3 816.1L476.4 814.1L477.5 812.1L478.5 810.1L479 808.1L478.2 806.1L477.4 804.1L476.6 802.1L475.6 800.1L474.5 798.1L473.4 796.1L473.5 794.1L473.9 792.1L474.4 790.1L475.4 788.1L476.4 786.1L477.3 784.1L478.2 782.1L479.2 780.1L480 778.1L478 776.1L477.1 774.1L476.3 772.1L475.8 770.1L474 768.1L472.2 766.1L470.5 764.1L469 762.1L467.9 760.1L468.2 758.1L467.2 756.1L466.1 754.1L464.8 752.1L464.8 750.1L464.9 748.1L465 746.1L464.8 744.1L462.8 742.1L460.2 740.1L457.5 738.1L454.8 736.1L451.8 734.1L448.4 732.1L444.5 730.1L442.8 728.1L441.1 726.1L438.2 724.1L435.8 722.1L434.6 720.1L432.3 718.1L425.6 716.1L424.5 714.1L424 712.1L421.3 710.1L418.8 708.1L419 706.1Z" fill="#0303ff" filter="url(#soft)"/>
<path d="M470 931h0M312 932h0M310 928h0M289 928h0M311 928h0M296 928h0M398 928h0M401 928h0M382 928h0M236 928h0M438 928h0M296 928h0M344 928h0M390 928h0M399 928h0M265 928h0M299 928h0M409 928h0M366 928h0M406 922h0M425 927h0M386 926h0M472 923h0M280 921h0M496 919h0M474 917h0M329 921h0M307 921h0M371 916h0M262 911h0M275 914h0M353 914h0M281 911h0M427 912h0M317 910h0M352 912h0M299 911h0M427 911h0M287 915h0M288 915h0M479 915h0M382 914h0M468 914h0M313 912h0M420 913h0M460 910h0M267 913h0M423 913h0M527 913h0M291 914h0M260 909h0M229 909h0M227 913h0M422 913h0M250 909h0M300 913h0M274 912h0M350 913h0M254 909h0M305 912h0M406 913h0M345 911h0M407 911h0M298 914h0M516 914h0M422 913h0M338 912h0M456 904h0M467 906h0M260 905h0M267 908h0M504 904h0M514 902h0M210 904h0M447 907h0M258 905h0M288 907h0M248 894h0M486 901h0M479 900h0M495 901h0M238 895h0M494 899h0M221 901h0M508 898h0M492 900h0M246 900h0M495 890h0M238 889h0M203 890h0M248 892h0M257 891h0M247 881h0M256 883h0M499 883h0M208 882h0M251 886h0M211 883h0M252 885h0M211 882h0M209 886h0M252 887h0M527 878h0M281 879h0M488 876h0M235 878h0M459 880h0M250 880h0M495 876h0M240 879h0M242 876h0M256 876h0M465 878h0M254 875h0M491 877h0M277 879h0M479 871h0M210 871h0M524 872h0M255 874h0M256 868h0M253 869h0M245 873h0M484 869h0M248 870h0M230 869h0M471 872h0M475 870h0M491 863h0M481 864h0M500 866h0M229 861h0M469 866h0M460 865h0M200 864h0M251 865h0M228 865h0M443 857h0M445 856h0M533 857h0M277 855h0M480 859h0M216 855h0M465 857h0M229 855h0M267 854h0M460 855h0M204 854h0M471 847h0M175 847h0M489 848h0M409 852h0M231 847h0M271 841h0M254 845h0M275 844h0M244 842h0M227 842h0M284 845h0M255 841h0M215 844h0M450 842h0M428 844h0M237 844h0M276 843h0M462 846h0M447 843h0M260 838h0M258 838h0M251 833h0M238 838h0M492 839h0M192 834h0M516 829h0M463 826h0M255 829h0M257 826h0M172 827h0M223 830h0M243 825h0M224 820h0M467 824h0M205 823h0M473 821h0M466 826h0M226 819h0M465 821h0M463 825h0M241 821h0M487 814h0M466 818h0M249 814h0M475 816h0M478 818h0M265 812h0M502 811h0M263 810h0M250 805h0M465 806h0M251 810h0M249 811h0M465 808h0M260 812h0M247 804h0M245 804h0M247 800h0M262 801h0M510 799h0M526 798h0M504 792h0M466 795h0M474 797h0M265 794h0M471 796h0M257 797h0M232 794h0M248 794h0M464 794h0M248 794h0M264 795h0M243 796h0M236 793h0M451 789h0M481 788h0M507 786h0M247 791h0M457 785h0M239 791h0M465 781h0M228 785h0M479 780h0M488 782h0M245 782h0M469 782h0M488 780h0M231 781h0M258 784h0M468 780h0M247 783h0M495 774h0M483 771h0M256 776h0M260 772h0M263 772h0M529 776h0M519 773h0M248 773h0M247 771h0M248 766h0M471 765h0M463 770h0M466 770h0M471 770h0M505 767h0M509 764h0M475 759h0M509 763h0M459 758h0M484 762h0M262 761h0M256 764h0M482 753h0M464 757h0M234 757h0M510 751h0M435 757h0M255 757h0M280 753h0M439 753h0M456 755h0M256 752h0M452 747h0M439 749h0M285 748h0M463 749h0M299 746h0M453 748h0M255 749h0M475 747h0M478 746h0M280 747h0M248 748h0M472 750h0M262 744h0M282 747h0M261 745h0M303 745h0M246 744h0M270 738h0M277 739h0M464 739h0M454 742h0M449 742h0M294 739h0M453 743h0M211 739h0M234 738h0M272 742h0M445 738h0M420 737h0M272 739h0M257 740h0M480 740h0M456 738h0M258 741h0M281 739h0M483 734h0M231 732h0M451 737h0M462 732h0M492 736h0M469 730h0M453 735h0M463 733h0M304 732h0M362 735h0M514 731h0M237 733h0M485 730h0M462 732h0M423 734h0M243 736h0M420 731h0M474 735h0M282 732h0M466 735h0M254 725h0M305 728h0M365 726h0M456 728h0M328 724h0M311 725h0M283 728h0M273 726h0M240 727h0M274 724h0M446 724h0M369 727h0M323 726h0M512 726h0M442 727h0M448 729h0M319 725h0M243 727h0M311 728h0M423 728h0M324 727h0M258 724h0M309 725h0M417 724h0M372 717h0M212 720h0M350 721h0M452 723h0M373 717h0M411 719h0M287 718h0M287 722h0M210 718h0M390 717h0M392 721h0M380 719h0M356 717h0M355 720h0M441 722h0M236 717h0M416 718h0M270 718h0M482 719h0M329 717h0M277 717h0M462 720h0M422 716h0M499 716h0M406 719h0M443 717h0M547 721h0M286 719h0M384 711h0M375 711h0M346 713h0M280 710h0M385 710h0M353 711h0M361 716h0M434 716h0M293 716h0M217 715h0M479 714h0M396 716h0M477 714h0M394 713h0M436 713h0M350 712h0M338 711h0M356 713h0M472 715h0M371 714h0M288 715h0M416 710h0M372 711h0M488 714h0M329 712h0M363 715h0M309 716h0M479 711h0M308 711h0M399 713h0M306 711h0M437 713h0M288 710h0M278 711h0M206 711h0M393 710h0M349 710h0M409 710h0M293 707h0M349 708h0M475 706h0M292 707h0M393 705h0M331 709h0M255 705h0M294 705h0M406 706h0M243 709h0M426 708h0M369 707h0M371 706h0M336 709h0M266 706h0M372 707h0M314 706h0M542 709h0M464 704h0M384 708h0M469 707h0M368 708h0M279 706h0M381 698h0M410 697h0M493 700h0M420 696h0M394 697h0M383 699h0M432 698h0M312 698h0M399 700h0M359 701h0M421 701h0M307 700h0M325 699h0M287 701h0M487 696h0M283 692h0M446 690h0M322 690h0M375 691h0M476 693h0M258 689h0M412 692h0M461 689h0M392 695h0M291 695h0M242 692h0M419 692h0M389 690h0M436 693h0M352 696h0M347 694h0M426 689h0M299 683h0M369 683h0M303 688h0M424 685h0M248 687h0M301 688h0M313 683h0M233 685h0M358 686h0M437 685h0M289 684h0M317 682h0M317 685h0M444 683h0M289 687h0M366 689h0M415 688h0M297 685h0M318 678h0M273 679h0M331 676h0M398 676h0M358 678h0M395 680h0M389 677h0M409 677h0M381 680h0M326 676h0M414 681h0M418 669h0M322 671h0M340 669h0M450 668h0M389 675h0M276 673h0M269 674h0M308 665h0M346 664h0M440 666h0M408 667h0M368 667h0M428 666h0M272 657h0M320 658h0M337 661h0M377 650h0M265 644h0M463 633h0M405 686h0M299 649h0M293 646h0M337 645h0M237 691h0M458 677h0" stroke="#0000ff" stroke-opacity="0.3" stroke-width="8.2" stroke-linecap="round" fill="none"/>
<path d="M424 962h0M249 944h0M341 939h0M314 931h0M264 932h0M432 928h0M213 928h0M332 928h0M332 928h0M283 928h0M362 928h0M425 928h0M324 928h0M430 928h0M424 928h0M241 928h0M394 928h0M331 928h0M445 928h0M367 928h0M342 928h0M413 928h0M436 928h0M394 928h0M297 923h0M467 927h0M381 922h0M484 921h0M415 919h0M459 920h0M458 917h0M337 916h0M292 912h0M285 909h0M387 914h0M242 913h0M456 912h0M290 913h0M399 913h0M313 910h0M393 913h0M275 913h0M407 911h0M458 912h0M276 909h0M237 912h0M254 904h0M488 906h0M479 907h0M461 904h0M496 903h0M436 908h0M504 904h0M284 906h0M272 907h0M221 896h0M538 895h0M209 898h0M199 899h0M201 894h0M242 889h0M515 888h0M173 890h0M233 888h0M237 894h0M237 892h0M491 892h0M494 891h0M475 892h0M516 881h0M475 881h0M472 887h0M196 883h0M247 883h0M458 883h0M232 886h0M190 886h0M513 883h0M279 879h0M473 879h0M204 877h0M250 877h0M253 877h0M468 877h0M242 875h0M262 867h0M467 870h0M227 871h0M230 871h0M245 867h0M207 873h0M502 871h0M251 873h0M253 868h0M451 868h0M472 869h0M519 871h0M219 867h0M452 865h0M475 861h0M536 864h0M502 866h0M253 861h0M453 866h0M497 862h0M260 863h0M262 859h0M244 855h0M459 860h0M278 853h0M246 860h0M462 854h0M474 858h0M262 855h0M453 859h0M219 854h0M497 857h0M270 857h0M465 851h0M483 848h0M253 853h0M274 848h0M505 852h0M238 847h0M266 848h0M473 852h0M271 852h0M284 848h0M228 848h0M465 850h0M283 847h0M264 849h0M250 848h0M517 851h0M468 846h0M262 845h0M483 842h0M461 846h0M462 845h0M485 842h0M253 844h0M485 844h0M255 845h0M261 846h0M255 834h0M469 836h0M284 837h0M494 838h0M260 839h0M474 833h0M228 839h0M269 834h0M478 827h0M235 827h0M507 831h0M462 828h0M485 829h0M247 829h0M240 832h0M454 832h0M236 821h0M478 823h0M492 819h0M476 821h0M444 822h0M466 823h0M218 820h0M251 820h0M453 825h0M233 821h0M443 823h0M446 820h0M258 824h0M456 822h0M447 818h0M467 816h0M224 818h0M212 818h0M261 813h0M257 816h0M474 812h0M236 815h0M233 815h0M474 809h0M259 808h0M518 811h0M470 811h0M250 810h0M264 806h0M263 809h0M253 811h0M486 810h0M249 806h0M225 809h0M241 806h0M466 808h0M470 802h0M488 804h0M222 803h0M224 801h0M493 798h0M508 792h0M250 797h0M234 795h0M236 798h0M477 797h0M259 796h0M240 794h0M221 796h0M467 792h0M242 798h0M457 797h0M214 795h0M252 792h0M233 794h0M469 793h0M480 795h0M466 791h0M490 789h0M473 789h0M450 785h0M459 790h0M174 781h0M254 783h0M250 783h0M473 783h0M469 779h0M248 780h0M465 780h0M466 780h0M251 784h0M517 780h0M194 777h0M249 771h0M513 776h0M228 772h0M550 776h0M472 764h0M247 770h0M505 768h0M249 769h0M463 767h0M506 769h0M559 768h0M482 771h0M471 765h0M472 766h0M469 765h0M481 769h0M514 765h0M260 763h0M265 759h0M271 763h0M514 764h0M268 762h0M267 762h0M475 760h0M248 763h0M230 754h0M496 757h0M464 754h0M465 755h0M222 755h0M480 756h0M460 754h0M437 753h0M235 756h0M462 754h0M259 755h0M487 756h0M488 755h0M505 756h0M251 754h0M269 751h0M460 744h0M245 749h0M275 745h0M273 745h0M303 748h0M289 744h0M270 746h0M496 749h0M263 749h0M482 748h0M275 746h0M259 748h0M457 742h0M462 741h0M453 739h0M448 742h0M241 742h0M184 740h0M291 740h0M463 743h0M452 741h0M255 739h0M444 737h0M457 742h0M460 738h0M241 742h0M273 739h0M261 737h0M227 741h0M451 742h0M231 734h0M302 735h0M487 733h0M278 734h0M303 735h0M484 735h0M256 735h0M461 736h0M234 734h0M363 730h0M451 731h0M358 732h0M526 735h0M448 732h0M436 730h0M433 728h0M254 729h0M301 727h0M409 725h0M447 729h0M367 727h0M285 726h0M484 726h0M201 726h0M442 727h0M413 725h0M436 726h0M429 727h0M433 723h0M498 728h0M298 727h0M265 726h0M497 727h0M255 730h0M396 723h0M330 726h0M327 728h0M233 729h0M255 728h0M279 724h0M418 725h0M353 729h0M243 727h0M426 730h0M428 730h0M365 725h0M244 726h0M418 724h0M358 717h0M390 723h0M434 717h0M276 720h0M298 719h0M258 723h0M326 720h0M322 721h0M478 721h0M475 721h0M354 722h0M416 720h0M317 721h0M338 716h0M296 720h0M300 721h0M457 720h0M464 719h0M254 723h0M390 719h0M452 718h0M452 720h0M388 719h0M412 722h0M371 717h0M429 723h0M404 717h0M454 721h0M504 721h0M273 720h0M315 717h0M351 715h0M369 714h0M510 714h0M320 711h0M270 712h0M320 715h0M406 711h0M429 715h0M448 711h0M448 710h0M316 713h0M253 713h0M275 710h0M353 714h0M332 715h0M243 713h0M379 714h0M275 712h0M267 711h0M292 715h0M430 716h0M282 710h0M234 715h0M527 713h0M478 712h0M413 715h0M355 716h0M449 715h0M337 710h0M199 715h0M416 711h0M321 716h0M314 705h0M237 707h0M387 709h0M386 708h0M422 706h0M496 708h0M400 708h0M293 703h0M368 708h0M362 703h0M266 709h0M297 704h0M437 708h0M281 709h0M255 703h0M473 708h0M288 703h0M400 707h0M307 708h0M347 703h0M365 708h0M308 705h0M462 705h0M280 709h0M362 708h0M412 707h0M450 707h0M389 700h0M425 700h0M444 702h0M336 699h0M403 701h0M379 697h0M419 699h0M320 697h0M382 701h0M293 697h0M308 697h0M475 702h0M355 699h0M429 701h0M331 700h0M409 701h0M408 701h0M313 701h0M416 700h0M285 695h0M268 694h0M536 693h0M318 690h0M372 693h0M403 689h0M348 691h0M396 692h0M437 694h0M402 694h0M276 692h0M342 696h0M465 691h0M344 691h0M372 691h0M363 691h0M458 683h0M416 684h0M484 683h0M354 687h0M395 684h0M388 682h0M255 686h0M338 685h0M347 684h0M286 685h0M222 683h0M319 686h0M383 686h0M429 682h0M437 679h0M397 676h0M302 681h0M225 678h0M433 676h0M454 674h0M337 674h0M454 674h0M347 674h0M456 675h0M396 671h0M466 662h0M411 662h0M304 665h0M463 665h0M310 663h0M481 666h0M304 660h0M464 656h0M463 657h0M413 652h0M288 653h0M319 653h0M349 647h0M300 643h0M397 644h0M433 617h0M287 623h0M448 942h0M283 681h0M386 653h0M309 677h0M355 653h0M485 645h0M345 672h0M415 676h0M347 666h0M372 659h0" stroke="#0000ff" stroke-opacity="0.3" stroke-width="8.2" stroke-linecap="round" fill="none"/>
<path d="M304 983h0M424 982h0M362 930h0M481 934h0M357 934h0M452 934h0M199 928h0M429 928h0M283 928h0M361 928h0M346 928h0M332 928h0M304 928h0M289 928h0M304 928h0M322 928h0M254 928h0M388 928h0M405 928h0M315 928h0M481 924h0M287 926h0M415 925h0M396 924h0M475 923h0M338 925h0M268 919h0M323 915h0M289 918h0M296 917h0M356 920h0M319 918h0M472 919h0M383 911h0M308 912h0M463 914h0M505 909h0M360 914h0M346 911h0M372 914h0M457 914h0M318 915h0M312 912h0M408 911h0M389 911h0M363 913h0M396 915h0M158 909h0M403 914h0M372 912h0M271 909h0M460 915h0M403 915h0M323 913h0M413 912h0M389 914h0M396 914h0M419 914h0M436 912h0M444 911h0M431 914h0M454 910h0M319 912h0M277 914h0M483 913h0M315 914h0M408 913h0M334 913h0M219 913h0M270 913h0M476 914h0M265 904h0M506 904h0M456 906h0M460 904h0M448 906h0M460 906h0M261 907h0M450 906h0M203 905h0M490 908h0M500 904h0M284 906h0M204 901h0M245 896h0M243 896h0M248 898h0M249 899h0M252 900h0M479 897h0M506 898h0M225 898h0M180 893h0M502 891h0M250 891h0M484 894h0M476 889h0M250 892h0M222 894h0M505 892h0M507 893h0M479 885h0M472 885h0M490 882h0M490 886h0M508 885h0M188 882h0M490 885h0M477 885h0M493 887h0M239 876h0M475 877h0M478 874h0M238 880h0M233 875h0M278 877h0M279 875h0M478 878h0M252 878h0M469 870h0M229 867h0M248 869h0M255 868h0M488 871h0M260 870h0M521 867h0M262 863h0M519 867h0M215 865h0M260 860h0M489 865h0M487 862h0M483 866h0M231 861h0M243 860h0M543 867h0M494 867h0M492 862h0M448 863h0M469 858h0M276 854h0M224 857h0M462 860h0M489 859h0M445 855h0M261 856h0M278 853h0M485 858h0M456 859h0M484 859h0M482 860h0M281 854h0M454 858h0M520 860h0M215 852h0M468 848h0M476 848h0M467 848h0M406 851h0M278 852h0M480 851h0M265 848h0M237 852h0M470 846h0M249 847h0M470 853h0M241 848h0M258 849h0M475 849h0M284 843h0M224 845h0M285 840h0M242 840h0M479 844h0M492 843h0M467 843h0M257 845h0M270 844h0M255 840h0M280 842h0M468 845h0M466 843h0M251 844h0M510 835h0M483 837h0M250 838h0M477 836h0M228 839h0M261 835h0M263 839h0M253 833h0M249 833h0M262 836h0M273 839h0M448 832h0M243 826h0M274 830h0M509 831h0M446 829h0M490 827h0M273 830h0M475 828h0M234 832h0M453 827h0M488 832h0M247 829h0M232 820h0M259 825h0M251 826h0M470 823h0M464 825h0M451 822h0M253 822h0M239 821h0M256 819h0M239 822h0M240 812h0M495 816h0M467 818h0M482 815h0M484 817h0M467 815h0M257 817h0M475 808h0M263 807h0M253 808h0M487 811h0M243 808h0M508 810h0M260 810h0M473 806h0M235 808h0M233 807h0M499 809h0M214 807h0M486 806h0M250 808h0M498 807h0M493 806h0M236 800h0M461 800h0M488 801h0M500 802h0M505 802h0M466 803h0M480 799h0M241 802h0M273 792h0M251 796h0M260 797h0M474 797h0M473 797h0M243 798h0M495 798h0M456 797h0M248 794h0M516 786h0M491 789h0M492 790h0M467 786h0M488 787h0M483 789h0M488 788h0M469 791h0M454 785h0M263 784h0M192 778h0M252 782h0M481 784h0M483 780h0M497 781h0M207 779h0M254 781h0M256 778h0M252 780h0M259 784h0M241 781h0M480 771h0M244 774h0M468 776h0M240 773h0M467 777h0M240 774h0M238 773h0M460 775h0M480 774h0M232 765h0M257 765h0M235 769h0M240 767h0M250 768h0M506 768h0M231 770h0M468 768h0M243 769h0M252 763h0M461 760h0M261 761h0M254 763h0M239 760h0M487 758h0M269 761h0M477 761h0M253 761h0M447 758h0M460 755h0M432 752h0M270 752h0M235 754h0M266 751h0M480 755h0M450 751h0M253 752h0M468 752h0M238 757h0M261 757h0M282 753h0M258 757h0M260 753h0M499 755h0M274 752h0M468 755h0M441 750h0M438 749h0M232 747h0M268 744h0M474 748h0M449 750h0M211 750h0M452 747h0M491 746h0M442 747h0M464 744h0M443 749h0M302 747h0M430 749h0M468 750h0M512 749h0M273 749h0M464 743h0M252 740h0M500 741h0M475 740h0M231 744h0M241 742h0M301 741h0M244 743h0M269 737h0M243 740h0M296 739h0M234 741h0M301 741h0M446 739h0M490 744h0M231 741h0M466 737h0M453 733h0M256 734h0M299 730h0M459 731h0M231 735h0M245 730h0M384 732h0M489 735h0M360 735h0M452 733h0M423 733h0M360 724h0M265 726h0M323 725h0M479 726h0M321 726h0M429 727h0M513 730h0M504 725h0M451 723h0M300 730h0M419 724h0M428 727h0M429 727h0M250 726h0M445 726h0M395 726h0M468 722h0M249 722h0M396 723h0M433 717h0M270 720h0M314 717h0M407 717h0M424 721h0M406 718h0M448 722h0M332 719h0M412 722h0M423 719h0M380 720h0M406 722h0M432 721h0M247 720h0M265 719h0M485 717h0M386 723h0M407 721h0M513 719h0M278 720h0M385 719h0M312 721h0M316 718h0M337 720h0M349 710h0M367 714h0M240 715h0M428 712h0M376 713h0M358 714h0M445 713h0M436 715h0M428 715h0M473 710h0M384 711h0M282 712h0M332 713h0M247 711h0M244 710h0M461 714h0M378 714h0M335 710h0M380 715h0M300 713h0M428 714h0M442 715h0M314 705h0M334 704h0M374 703h0M314 707h0M364 707h0M292 709h0M286 707h0M421 706h0M396 706h0M373 705h0M412 705h0M403 703h0M317 706h0M330 706h0M451 708h0M308 706h0M315 704h0M423 707h0M397 708h0M402 697h0M428 702h0M335 698h0M338 699h0M392 699h0M394 699h0M362 697h0M500 699h0M438 701h0M439 698h0M344 699h0M315 700h0M268 696h0M264 698h0M474 698h0M359 698h0M328 701h0M410 696h0M289 695h0M437 693h0M453 691h0M437 693h0M339 691h0M376 695h0M349 694h0M274 690h0M396 689h0M328 694h0M464 695h0M466 694h0M405 689h0M344 686h0M304 684h0M438 686h0M307 685h0M357 685h0M319 683h0M323 682h0M329 688h0M312 687h0M317 684h0M402 687h0M290 687h0M351 687h0M409 682h0M382 681h0M308 676h0M207 678h0M288 679h0M221 675h0M281 677h0M354 680h0M426 682h0M317 676h0M446 678h0M328 674h0M347 671h0M351 670h0M266 672h0M298 674h0M263 675h0M422 664h0M447 666h0M309 662h0M345 656h0M343 661h0M510 642h0M354 644h0M398 645h0M328 644h0M403 643h0M530 970h0M233 960h0M286 965h0M388 945h0M443 652h0M365 642h0M368 668h0M271 650h0M314 671h0M336 682h0" stroke="#0000ff" stroke-opacity="0.3" stroke-width="8.2" stroke-linecap="round" fill="none"/>
<path d="M332 929h0M219 934h0M402 935h0M329 929h0M297 934h0M340 935h0M339 928h0M439 928h0M460 928h0M416 928h0M462 928h0M295 928h0M419 928h0M444 928h0M315 928h0M333 928h0M327 928h0M323 928h0M296 928h0M338 928h0M312 928h0M309 928h0M291 928h0M406 928h0M337 928h0M236 928h0M279 928h0M283 928h0M339 927h0M464 926h0M438 926h0M422 926h0M526 927h0M318 927h0M246 923h0M399 921h0M453 921h0M424 917h0M416 921h0M460 917h0M298 916h0M329 915h0M316 921h0M328 916h0M344 917h0M325 916h0M289 914h0M449 911h0M273 911h0M383 915h0M318 912h0M376 913h0M321 912h0M285 908h0M312 909h0M425 912h0M326 910h0M344 914h0M341 912h0M277 909h0M439 914h0M398 912h0M456 912h0M401 913h0M295 913h0M261 910h0M240 902h0M478 902h0M451 905h0M479 905h0M245 903h0M531 903h0M181 901h0M255 901h0M261 907h0M489 902h0M492 901h0M505 895h0M222 897h0M476 901h0M481 898h0M218 900h0M223 901h0M518 899h0M481 899h0M252 896h0M521 897h0M491 896h0M537 895h0M203 891h0M232 894h0M495 893h0M499 891h0M210 887h0M488 885h0M474 881h0M228 883h0M509 884h0M247 885h0M473 881h0M253 883h0M186 885h0M251 879h0M279 877h0M477 880h0M258 879h0M217 875h0M240 876h0M244 868h0M262 873h0M469 873h0M224 873h0M278 872h0M543 865h0M482 861h0M237 863h0M261 864h0M514 864h0M485 861h0M473 865h0M481 860h0M263 861h0M454 865h0M264 853h0M193 855h0M252 859h0M486 855h0M270 857h0M269 858h0M478 853h0M465 857h0M407 852h0M262 847h0M455 849h0M243 852h0M267 849h0M463 850h0M241 849h0M484 852h0M549 850h0M494 848h0M476 847h0M244 851h0M407 848h0M269 851h0M288 848h0M279 847h0M461 849h0M468 843h0M277 842h0M258 840h0M277 842h0M482 846h0M222 843h0M237 845h0M257 844h0M279 842h0M485 841h0M280 844h0M277 846h0M279 841h0M189 845h0M283 840h0M255 835h0M204 834h0M253 836h0M490 833h0M268 835h0M276 839h0M267 835h0M198 839h0M235 834h0M430 838h0M487 828h0M462 828h0M270 832h0M508 830h0M237 831h0M258 830h0M449 826h0M211 833h0M264 828h0M476 830h0M508 826h0M532 832h0M481 821h0M449 824h0M232 820h0M465 821h0M259 817h0M449 817h0M250 815h0M466 813h0M490 819h0M229 814h0M245 818h0M471 811h0M486 806h0M490 807h0M462 805h0M504 810h0M258 810h0M214 812h0M257 807h0M254 803h0M484 803h0M478 800h0M479 803h0M473 799h0M509 802h0M248 802h0M261 805h0M510 802h0M462 805h0M256 799h0M158 804h0M467 792h0M240 792h0M465 796h0M464 795h0M261 798h0M192 794h0M465 798h0M467 793h0M245 794h0M274 793h0M457 794h0M488 796h0M229 787h0M250 791h0M228 789h0M468 786h0M198 788h0M258 790h0M180 791h0M519 792h0M472 788h0M481 784h0M250 778h0M178 779h0M257 780h0M482 780h0M483 780h0M493 771h0M256 771h0M464 776h0M252 773h0M248 774h0M245 771h0M475 772h0M502 772h0M261 772h0M473 764h0M249 767h0M249 771h0M258 770h0M266 769h0M474 769h0M254 770h0M266 767h0M533 770h0M256 758h0M470 763h0M477 764h0M235 760h0M246 763h0M493 760h0M234 762h0M475 761h0M484 758h0M269 760h0M229 758h0M461 761h0M250 760h0M504 757h0M476 752h0M432 753h0M443 754h0M237 752h0M258 753h0M269 755h0M451 753h0M479 755h0M263 754h0M281 744h0M485 750h0M263 750h0M442 749h0M481 748h0M300 749h0M488 746h0M508 748h0M433 750h0M267 750h0M299 745h0M281 746h0M449 746h0M455 748h0M236 744h0M485 747h0M480 744h0M280 744h0M183 748h0M301 739h0M458 741h0M515 743h0M293 740h0M454 740h0M433 743h0M270 737h0M295 739h0M540 738h0M479 741h0M280 743h0M293 743h0M454 738h0M297 735h0M263 736h0M234 733h0M223 736h0M427 731h0M296 734h0M286 730h0M296 736h0M487 735h0M357 731h0M479 734h0M440 736h0M367 732h0M296 733h0M469 735h0M443 732h0M448 733h0M443 734h0M348 726h0M303 727h0M492 727h0M354 725h0M499 728h0M350 725h0M212 724h0M392 723h0M420 725h0M366 726h0M474 725h0M447 728h0M321 723h0M271 723h0M334 723h0M397 721h0M444 717h0M400 723h0M289 718h0M430 720h0M475 721h0M417 718h0M391 720h0M308 719h0M270 719h0M501 718h0M285 722h0M316 722h0M469 718h0M338 719h0M329 721h0M291 720h0M420 717h0M468 720h0M356 715h0M351 711h0M367 711h0M428 711h0M340 714h0M269 711h0M298 710h0M353 714h0M388 716h0M369 710h0M342 714h0M294 714h0M466 713h0M359 715h0M381 715h0M342 714h0M501 710h0M390 714h0M414 714h0M353 712h0M300 716h0M458 713h0M322 710h0M320 712h0M420 710h0M277 711h0M280 710h0M455 715h0M383 710h0M224 712h0M381 711h0M416 715h0M345 704h0M408 705h0M345 708h0M322 705h0M377 703h0M383 709h0M438 703h0M408 703h0M333 703h0M435 709h0M445 705h0M329 707h0M420 704h0M321 706h0M195 709h0M325 705h0M355 708h0M372 706h0M284 704h0M299 704h0M295 706h0M347 709h0M286 706h0M245 709h0M448 707h0M359 705h0M447 703h0M305 707h0M406 706h0M273 698h0M391 701h0M266 703h0M288 699h0M330 700h0M382 702h0M285 698h0M333 697h0M452 702h0M354 698h0M383 700h0M370 702h0M425 702h0M344 702h0M330 698h0M471 698h0M231 700h0M399 697h0M331 700h0M410 700h0M353 700h0M400 696h0M359 698h0M313 698h0M332 701h0M364 692h0M452 694h0M294 692h0M376 694h0M387 693h0M313 691h0M440 690h0M428 694h0M394 690h0M323 694h0M379 694h0M416 691h0M210 689h0M284 690h0M374 690h0M304 690h0M394 691h0M257 684h0M303 688h0M330 688h0M310 688h0M312 687h0M347 683h0M356 685h0M383 684h0M304 687h0M449 688h0M458 682h0M267 686h0M489 682h0M381 681h0M460 682h0M250 677h0M287 676h0M416 677h0M307 681h0M490 676h0M447 678h0M300 676h0M322 679h0M469 672h0M292 671h0M464 674h0M484 671h0M302 674h0M392 671h0M471 669h0M339 670h0M340 672h0M329 663h0M481 666h0M331 662h0M433 668h0M327 662h0M366 658h0M295 655h0M259 655h0M275 657h0M461 655h0M333 659h0M433 659h0M316 661h0M439 651h0M440 648h0M276 651h0M363 637h0M411 965h0M390 955h0M420 671h0M447 645h0M462 677h0M435 656h0M303 668h0M373 667h0M430 690h0M335 681h0M275 659h0M414 667h0" stroke="#0000ff" stroke-opacity="0.3" stroke-width="8.2" stroke-linecap="round" fill="none"/>
<path d="M493 931h0M393 931h0M276 933h0M347 928h0M387 928h0M458 928h0M250 928h0M406 928h0M442 928h0M494 928h0M300 928h0M365 928h0M435 928h0M343 928h0M363 928h0M370 928h0M371 928h0M519 928h0M398 928h0M344 928h0M401 925h0M347 926h0M369 923h0M430 923h0M327 920h0M273 916h0M430 921h0M301 919h0M299 918h0M361 919h0M300 918h0M435 909h0M290 914h0M371 914h0M276 910h0M374 914h0M476 914h0M234 909h0M357 913h0M283 911h0M435 911h0M247 908h0M280 911h0M273 910h0M434 914h0M332 911h0M302 912h0M278 910h0M281 911h0M421 913h0M383 911h0M241 914h0M335 913h0M490 912h0M388 913h0M286 910h0M250 910h0M325 914h0M462 906h0M238 903h0M256 905h0M232 907h0M485 907h0M502 902h0M481 903h0M474 907h0M269 907h0M520 900h0M509 899h0M479 896h0M485 895h0M480 900h0M247 896h0M490 897h0M245 899h0M235 899h0M228 897h0M201 896h0M204 899h0M492 894h0M512 900h0M472 890h0M229 890h0M492 891h0M251 892h0M507 890h0M220 892h0M218 891h0M195 888h0M489 893h0M237 894h0M481 892h0M181 881h0M476 886h0M201 882h0M220 883h0M238 882h0M528 885h0M476 885h0M487 886h0M238 887h0M484 884h0M256 877h0M234 874h0M471 877h0M277 874h0M258 877h0M491 875h0M280 880h0M235 877h0M243 879h0M497 874h0M226 880h0M478 880h0M254 879h0M493 867h0M193 873h0M473 869h0M469 872h0M240 872h0M513 872h0M262 873h0M519 872h0M250 869h0M506 869h0M191 869h0M253 872h0M471 863h0M508 866h0M207 865h0M249 864h0M479 863h0M479 862h0M466 867h0M456 866h0M254 863h0M247 860h0M513 862h0M243 859h0M457 858h0M234 854h0M242 853h0M279 855h0M470 856h0M264 859h0M461 851h0M476 849h0M244 847h0M278 853h0M489 852h0M456 849h0M454 849h0M477 853h0M490 850h0M239 852h0M460 849h0M228 849h0M282 844h0M221 843h0M495 842h0M268 842h0M484 843h0M250 846h0M470 845h0M446 842h0M263 843h0M285 837h0M279 834h0M278 835h0M286 836h0M250 835h0M250 836h0M254 834h0M469 838h0M546 836h0M272 836h0M505 833h0M493 827h0M262 828h0M273 831h0M244 830h0M268 832h0M222 826h0M227 830h0M283 832h0M456 820h0M254 821h0M512 826h0M218 826h0M455 821h0M470 822h0M216 826h0M260 823h0M464 825h0M519 825h0M479 823h0M474 816h0M229 813h0M531 818h0M229 815h0M508 819h0M246 819h0M501 818h0M481 813h0M254 815h0M480 816h0M480 814h0M465 806h0M513 806h0M231 810h0M248 811h0M244 811h0M476 812h0M480 812h0M470 804h0M467 801h0M477 804h0M506 801h0M484 805h0M262 803h0M225 799h0M491 799h0M461 800h0M209 798h0M262 793h0M250 798h0M465 794h0M483 798h0M247 793h0M532 788h0M481 787h0M265 785h0M221 787h0M256 786h0M486 791h0M515 786h0M503 790h0M452 785h0M477 789h0M219 785h0M479 779h0M479 784h0M480 779h0M248 781h0M482 780h0M463 772h0M258 778h0M509 772h0M234 773h0M493 773h0M257 775h0M492 778h0M509 776h0M461 773h0M474 777h0M258 774h0M272 764h0M260 766h0M265 766h0M185 769h0M482 768h0M260 769h0M525 769h0M460 771h0M254 762h0M269 761h0M491 762h0M250 759h0M244 758h0M254 761h0M260 764h0M496 762h0M229 758h0M269 754h0M219 753h0M272 752h0M257 753h0M440 756h0M262 756h0M440 754h0M447 751h0M268 752h0M247 751h0M474 757h0M466 751h0M514 754h0M491 751h0M264 751h0M443 751h0M482 749h0M478 745h0M457 749h0M236 745h0M257 746h0M255 750h0M519 745h0M238 745h0M304 748h0M286 745h0M438 749h0M254 744h0M429 745h0M246 744h0M282 749h0M264 750h0M261 750h0M463 750h0M278 738h0M453 739h0M519 739h0M506 739h0M462 740h0M280 742h0M446 740h0M482 737h0M507 738h0M268 739h0M464 741h0M287 742h0M304 741h0M445 740h0M272 737h0M357 731h0M388 736h0M452 731h0M442 732h0M438 731h0M361 734h0M488 731h0M302 735h0M364 732h0M446 732h0M219 732h0M420 731h0M232 737h0M265 734h0M418 731h0M309 731h0M281 731h0M354 724h0M262 729h0M290 723h0M310 730h0M473 724h0M228 725h0M483 729h0M333 724h0M274 728h0M357 729h0M554 728h0M308 725h0M430 726h0M486 723h0M430 728h0M299 725h0M387 724h0M420 724h0M279 717h0M379 717h0M224 717h0M519 721h0M501 722h0M339 720h0M291 721h0M318 719h0M293 720h0M424 720h0M396 721h0M370 716h0M379 718h0M422 720h0M384 721h0M443 720h0M475 719h0M445 718h0M262 721h0M259 717h0M253 719h0M242 719h0M346 715h0M387 713h0M373 715h0M366 714h0M379 712h0M354 713h0M248 715h0M472 715h0M274 713h0M278 712h0M388 709h0M327 714h0M210 710h0M408 712h0M336 715h0M328 716h0M371 712h0M365 712h0M273 716h0M168 715h0M307 710h0M374 714h0M359 713h0M306 716h0M437 711h0M253 713h0M399 711h0M257 707h0M323 704h0M429 709h0M495 708h0M396 707h0M407 709h0M375 708h0M449 708h0M285 706h0M383 703h0M454 704h0M303 707h0M374 709h0M350 704h0M344 709h0M392 706h0M466 709h0M478 706h0M319 697h0M454 699h0M439 701h0M457 697h0M333 698h0M413 698h0M260 698h0M393 699h0M305 699h0M275 697h0M348 697h0M302 696h0M445 701h0M406 698h0M403 690h0M384 695h0M325 692h0M235 696h0M341 694h0M332 694h0M379 690h0M503 692h0M498 692h0M348 683h0M462 684h0M484 688h0M394 684h0M306 686h0M305 686h0M425 689h0M289 685h0M380 683h0M405 681h0M230 682h0M273 676h0M387 679h0M391 678h0M351 680h0M439 669h0M210 670h0M354 674h0M419 674h0M482 666h0M341 663h0M428 665h0M299 663h0M275 655h0M287 650h0M352 654h0M379 642h0M246 644h0M427 646h0M456 643h0M317 644h0M427 636h0M296 624h0M460 691h0M376 676h0M482 662h0M295 659h0M311 649h0M391 658h0M406 673h0M509 667h0" stroke="#0000ff" stroke-opacity="0.3" stroke-width="8.2" stroke-linecap="round" fill="none"/>
<path d="M260 982h0M409 934h0M443 932h0M348 928h0M321 928h0M484 928h0M284 928h0M379 928h0M435 928h0M308 928h0M262 928h0M240 928h0M506 928h0M390 928h0M338 928h0M359 928h0M401 928h0M361 928h0M328 928h0M345 928h0M448 928h0M451 928h0M321 928h0M372 927h0M419 924h0M268 920h0M408 918h0M334 919h0M307 915h0M261 917h0M223 916h0M490 909h0M350 914h0M443 913h0M387 911h0M377 914h0M248 910h0M414 910h0M420 913h0M356 914h0M393 914h0M307 912h0M282 911h0M489 908h0M263 915h0M429 912h0M292 909h0M436 911h0M302 914h0M406 911h0M306 913h0M430 912h0M270 912h0M304 914h0M434 909h0M472 903h0M440 908h0M250 902h0M240 906h0M208 905h0M463 907h0M493 905h0M272 906h0M456 905h0M265 904h0M250 907h0M490 905h0M439 908h0M444 906h0M289 907h0M485 898h0M485 900h0M252 895h0M241 895h0M246 895h0M253 901h0M239 899h0M502 895h0M214 896h0M201 893h0M249 889h0M497 890h0M473 888h0M497 891h0M204 892h0M245 885h0M488 885h0M518 886h0M481 881h0M479 883h0M460 883h0M220 879h0M278 877h0M473 879h0M260 879h0M468 878h0M464 877h0M227 874h0M257 877h0M244 877h0M230 874h0M477 877h0M507 879h0M244 875h0M251 880h0M219 872h0M260 872h0M237 869h0M237 868h0M497 872h0M484 870h0M451 870h0M243 869h0M461 867h0M258 868h0M478 871h0M469 868h0M467 870h0M553 864h0M206 866h0M482 861h0M242 863h0M451 865h0M227 867h0M513 864h0M466 862h0M250 862h0M268 858h0M271 854h0M469 857h0M505 859h0M456 856h0M220 858h0M484 857h0M246 857h0M495 859h0M235 858h0M459 851h0M258 851h0M277 846h0M468 849h0M248 853h0M253 848h0M239 848h0M473 852h0M241 849h0M241 839h0M238 844h0M475 846h0M272 840h0M218 846h0M278 846h0M212 845h0M430 844h0M446 841h0M484 842h0M241 844h0M264 842h0M476 846h0M489 845h0M269 844h0M264 838h0M504 834h0M270 837h0M281 837h0M477 835h0M240 838h0M266 838h0M242 833h0M230 837h0M258 837h0M453 831h0M452 828h0M190 828h0M447 827h0M455 827h0M498 828h0M453 831h0M254 832h0M264 831h0M480 829h0M477 826h0M472 832h0M457 826h0M469 827h0M235 825h0M482 824h0M495 821h0M222 819h0M240 823h0M464 821h0M487 826h0M253 813h0M241 813h0M465 814h0M481 817h0M247 818h0M503 816h0M465 817h0M476 816h0M469 819h0M491 811h0M248 806h0M218 808h0M476 811h0M518 809h0M262 806h0M504 811h0M515 811h0M487 809h0M503 807h0M494 806h0M468 810h0M492 801h0M507 800h0M475 805h0M484 804h0M501 804h0M468 801h0M203 805h0M228 801h0M461 803h0M225 801h0M256 804h0M472 795h0M478 797h0M499 792h0M266 795h0M238 796h0M262 793h0M515 792h0M220 792h0M218 794h0M269 788h0M481 789h0M451 785h0M505 786h0M268 790h0M245 791h0M481 785h0M185 785h0M465 787h0M272 789h0M452 790h0M237 786h0M474 790h0M233 786h0M484 784h0M250 780h0M208 780h0M492 784h0M219 779h0M239 782h0M467 782h0M230 782h0M254 783h0M459 774h0M250 777h0M245 772h0M466 777h0M474 774h0M492 776h0M509 773h0M525 771h0M259 772h0M249 772h0M481 777h0M474 773h0M464 765h0M470 768h0M490 768h0M503 766h0M481 768h0M460 766h0M460 768h0M489 771h0M242 766h0M477 769h0M201 765h0M465 765h0M500 769h0M462 758h0M455 760h0M208 764h0M220 758h0M243 758h0M516 763h0M462 761h0M513 762h0M239 760h0M176 761h0M459 761h0M478 763h0M523 753h0M270 756h0M475 754h0M260 756h0M251 754h0M457 755h0M432 752h0M456 752h0M469 752h0M259 755h0M504 751h0M250 751h0M441 756h0M454 755h0M452 756h0M229 751h0M484 745h0M276 749h0M257 744h0M227 748h0M248 744h0M301 744h0M286 745h0M471 748h0M272 746h0M244 750h0M280 748h0M256 749h0M474 747h0M458 748h0M204 744h0M459 750h0M465 747h0M452 748h0M459 750h0M296 746h0M294 744h0M287 741h0M263 743h0M257 738h0M241 741h0M486 737h0M299 740h0M275 742h0M277 737h0M457 740h0M466 743h0M258 743h0M517 740h0M277 737h0M291 742h0M308 732h0M302 731h0M277 736h0M526 733h0M439 736h0M264 736h0M445 734h0M467 733h0M460 735h0M476 733h0M538 731h0M486 731h0M304 732h0M443 731h0M497 731h0M491 734h0M282 725h0M357 726h0M310 729h0M315 725h0M290 723h0M408 725h0M360 727h0M426 725h0M480 728h0M468 725h0M429 728h0M357 729h0M493 725h0M313 727h0M489 728h0M350 727h0M496 728h0M305 730h0M431 727h0M515 727h0M388 723h0M308 725h0M422 728h0M214 725h0M434 730h0M401 722h0M337 717h0M291 718h0M342 720h0M203 719h0M461 718h0M435 719h0M279 717h0M507 723h0M313 722h0M403 723h0M253 723h0M426 722h0M231 719h0M414 723h0M424 721h0M457 720h0M408 718h0M275 717h0M318 716h0M319 719h0M466 717h0M254 719h0M358 719h0M200 720h0M343 719h0M422 720h0M341 717h0M340 713h0M469 711h0M430 711h0M268 712h0M338 716h0M339 713h0M376 716h0M434 710h0M350 710h0M387 710h0M420 710h0M365 712h0M394 710h0M514 711h0M410 709h0M401 712h0M444 714h0M414 711h0M301 714h0M204 710h0M404 714h0M414 706h0M349 707h0M317 704h0M479 706h0M244 708h0M433 706h0M331 705h0M378 707h0M391 705h0M249 708h0M325 704h0M235 707h0M323 704h0M294 703h0M473 707h0M305 703h0M473 703h0M353 709h0M361 706h0M460 707h0M357 702h0M374 701h0M428 698h0M324 699h0M445 701h0M475 698h0M412 701h0M316 701h0M317 703h0M343 699h0M400 697h0M386 699h0M271 696h0M315 697h0M419 695h0M425 696h0M328 692h0M405 692h0M379 690h0M430 693h0M434 694h0M486 692h0M344 689h0M343 693h0M368 692h0M382 683h0M450 683h0M326 684h0M395 685h0M310 688h0M429 689h0M421 686h0M389 689h0M318 685h0M456 681h0M380 676h0M281 681h0M449 675h0M485 678h0M268 677h0M232 676h0M361 680h0M282 682h0M402 676h0M279 676h0M321 674h0M406 674h0M452 669h0M366 669h0M436 675h0M400 674h0M359 667h0M480 667h0M444 665h0M220 668h0M233 667h0M362 655h0M380 655h0M320 656h0M326 659h0M421 658h0M471 656h0M365 655h0M241 657h0M334 650h0M465 653h0M377 642h0M277 642h0M477 634h0M307 612h0M482 625h0M340 614h0M368 643h0M465 688h0M378 671h0M287 675h0M245 661h0M348 684h0" stroke="#0000ff" stroke-opacity="0.3" stroke-width="8.2" stroke-linecap="round" fill="none"/>
<path d="M352 932h0M407 935h0M219 928h0M470 928h0M436 928h0M296 928h0M454 928h0M278 928h0M363 928h0M275 928h0M334 928h0M270 928h0M212 928h0M326 928h0M300 928h0M288 928h0M298 928h0M342 928h0M428 926h0M466 923h0M290 925h0M234 922h0M266 915h0M353 921h0M339 919h0M320 915h0M299 917h0M476 921h0M437 917h0M307 920h0M224 918h0M418 916h0M457 912h0M243 911h0M396 911h0M317 910h0M452 910h0M288 912h0M344 914h0M333 912h0M432 913h0M421 913h0M314 912h0M477 912h0M477 911h0M508 910h0M415 915h0M384 911h0M241 909h0M455 914h0M478 913h0M280 908h0M314 910h0M406 914h0M216 902h0M522 902h0M219 908h0M233 905h0M466 904h0M472 905h0M453 906h0M477 904h0M514 906h0M465 905h0M267 906h0M449 904h0M240 902h0M476 901h0M207 903h0M471 908h0M251 895h0M223 899h0M502 896h0M478 900h0M219 899h0M247 898h0M493 898h0M243 896h0M476 898h0M476 900h0M223 898h0M234 897h0M507 889h0M247 890h0M234 892h0M486 890h0M491 889h0M510 890h0M494 885h0M478 883h0M230 882h0M457 881h0M475 887h0M470 881h0M477 883h0M201 881h0M148 884h0M459 883h0M518 887h0M257 881h0M486 883h0M256 881h0M225 876h0M239 879h0M491 876h0M229 878h0M485 878h0M469 878h0M249 876h0M234 879h0M506 875h0M278 873h0M551 869h0M238 873h0M234 871h0M253 870h0M522 868h0M242 871h0M462 867h0M457 868h0M249 870h0M218 869h0M226 868h0M219 869h0M264 873h0M241 873h0M497 872h0M480 871h0M487 862h0M248 865h0M472 865h0M256 865h0M471 865h0M462 860h0M460 863h0M238 864h0M262 865h0M456 863h0M492 859h0M487 858h0M263 857h0M461 859h0M458 856h0M445 857h0M469 858h0M223 858h0M288 854h0M500 858h0M477 855h0M226 855h0M460 852h0M215 849h0M214 848h0M406 851h0M267 849h0M454 850h0M274 849h0M238 849h0M276 849h0M284 847h0M454 849h0M498 842h0M239 846h0M278 844h0M468 842h0M493 841h0M482 842h0M517 843h0M258 841h0M269 846h0M493 840h0M244 844h0M268 844h0M512 846h0M517 835h0M257 836h0M226 834h0M272 836h0M278 833h0M541 836h0M252 837h0M181 835h0M217 839h0M497 831h0M267 828h0M458 830h0M478 832h0M240 827h0M463 826h0M235 829h0M454 832h0M266 830h0M263 832h0M480 827h0M499 827h0M241 826h0M210 824h0M494 822h0M471 820h0M250 821h0M498 824h0M237 824h0M473 824h0M257 825h0M225 820h0M456 825h0M223 822h0M467 816h0M242 813h0M253 815h0M523 816h0M450 818h0M238 812h0M223 812h0M240 817h0M485 813h0M480 815h0M248 806h0M485 806h0M467 810h0M474 811h0M249 807h0M214 810h0M263 812h0M256 806h0M243 808h0M483 810h0M505 811h0M491 804h0M487 803h0M237 805h0M260 801h0M239 802h0M493 805h0M239 799h0M246 805h0M479 804h0M486 804h0M221 796h0M254 792h0M492 798h0M484 796h0M260 794h0M528 793h0M503 794h0M231 793h0M252 793h0M264 794h0M458 796h0M487 788h0M255 787h0M470 785h0M263 790h0M481 787h0M265 785h0M505 785h0M487 787h0M450 788h0M257 781h0M234 783h0M192 776h0M463 775h0M229 775h0M478 775h0M248 773h0M475 773h0M477 775h0M206 777h0M222 776h0M218 778h0M470 775h0M230 771h0M254 767h0M259 771h0M477 769h0M218 765h0M257 764h0M260 764h0M468 760h0M231 764h0M464 764h0M209 760h0M251 763h0M261 763h0M236 758h0M242 764h0M197 757h0M260 761h0M449 751h0M243 757h0M249 751h0M434 752h0M256 753h0M258 757h0M263 751h0M251 753h0M208 750h0M296 744h0M231 748h0M437 747h0M499 745h0M431 745h0M252 750h0M245 744h0M439 747h0M302 744h0M468 745h0M264 749h0M451 749h0M453 747h0M219 748h0M486 747h0M251 748h0M454 749h0M272 749h0M302 748h0M303 740h0M359 737h0M469 738h0M275 743h0M508 742h0M303 742h0M463 740h0M466 743h0M474 737h0M486 738h0M267 738h0M235 737h0M457 738h0M280 742h0M458 741h0M252 743h0M242 743h0M289 741h0M283 741h0M279 730h0M358 735h0M448 735h0M358 731h0M504 735h0M276 736h0M267 734h0M447 734h0M283 736h0M284 731h0M304 732h0M196 731h0M295 734h0M357 735h0M389 736h0M420 733h0M235 734h0M275 733h0M450 733h0M244 727h0M301 730h0M356 727h0M277 728h0M358 726h0M194 730h0M329 728h0M254 726h0M287 724h0M390 723h0M484 728h0M388 724h0M283 725h0M253 726h0M352 724h0M283 725h0M349 728h0M200 727h0M421 724h0M304 727h0M303 725h0M395 724h0M502 728h0M209 728h0M389 724h0M369 727h0M410 723h0M440 717h0M263 718h0M476 718h0M514 721h0M253 717h0M268 717h0M350 719h0M258 722h0M326 718h0M314 721h0M416 717h0M497 717h0M395 718h0M308 721h0M398 722h0M283 720h0M347 723h0M438 722h0M347 717h0M295 719h0M449 717h0M329 719h0M380 722h0M286 719h0M171 719h0M393 720h0M269 719h0M337 711h0M279 714h0M394 714h0M367 711h0M251 713h0M423 711h0M432 712h0M281 710h0M296 714h0M397 716h0M460 713h0M364 715h0M399 712h0M361 715h0M331 716h0M309 711h0M358 712h0M454 710h0M473 711h0M439 713h0M457 716h0M486 715h0M445 713h0M404 711h0M285 710h0M297 710h0M420 716h0M365 715h0M418 716h0M456 710h0M357 716h0M282 709h0M338 708h0M448 704h0M428 708h0M464 703h0M284 708h0M261 703h0M343 707h0M281 705h0M301 704h0M494 709h0M226 708h0M339 706h0M445 704h0M352 705h0M400 704h0M296 703h0M245 707h0M394 708h0M403 703h0M429 702h0M287 697h0M351 702h0M362 703h0M347 702h0M316 699h0M486 696h0M369 699h0M352 701h0M307 701h0M326 697h0M240 700h0M330 700h0M437 702h0M249 699h0M323 697h0M482 701h0M270 699h0M445 690h0M445 690h0M346 690h0M527 695h0M311 691h0M235 692h0M312 692h0M342 692h0M398 693h0M455 693h0M291 690h0M404 691h0M327 693h0M407 685h0M378 689h0M424 688h0M391 685h0M387 688h0M303 683h0M309 684h0M241 687h0M293 688h0M331 688h0M431 683h0M256 683h0M365 685h0M389 685h0M307 679h0M444 680h0M291 677h0M370 679h0M381 677h0M364 682h0M454 672h0M261 675h0M280 671h0M252 672h0M371 671h0M373 669h0M245 671h0M247 662h0M284 663h0M422 664h0M511 664h0M331 663h0M451 663h0M375 663h0M296 664h0M451 668h0M331 660h0M423 657h0M433 659h0M275 661h0M533 659h0M277 658h0M281 648h0M327 653h0M394 650h0M381 647h0M347 635h0M431 680h0M366 656h0M300 671h0M339 672h0M291 643h0M417 656h0M390 662h0M299 643h0M395 687h0M298 677h0M376 654h0" stroke="#0000ff" stroke-opacity="0.3" stroke-width="8.2" stroke-linecap="round" fill="none"/>
<path d="M346 929h0M298 933h0M398 929h0M390 928h0M290 928h0M469 928h0M229 928h0M418 928h0M289 928h0M354 928h0M379 928h0M344 928h0M298 928h0M242 928h0M290 928h0M273 928h0M476 928h0M539 928h0M200 928h0M295 928h0M445 928h0M293 928h0M339 922h0M355 924h0M359 922h0M285 921h0M346 920h0M314 919h0M445 921h0M329 913h0M217 912h0M430 908h0M404 914h0M398 911h0M465 913h0M379 915h0M349 913h0M393 913h0M399 910h0M289 913h0M511 914h0M320 913h0M505 909h0M298 911h0M253 908h0M329 911h0M380 914h0M417 913h0M295 910h0M284 911h0M421 914h0M484 913h0M357 914h0M475 903h0M164 903h0M250 903h0M256 904h0M461 906h0M236 904h0M473 904h0M267 905h0M457 906h0M441 907h0M233 902h0M243 905h0M459 905h0M473 905h0M232 900h0M477 896h0M483 898h0M200 899h0M244 900h0M495 897h0M495 901h0M486 900h0M249 900h0M219 898h0M497 898h0M244 894h0M483 901h0M244 895h0M504 898h0M510 896h0M484 899h0M246 892h0M220 892h0M250 890h0M528 893h0M490 891h0M507 893h0M251 894h0M494 890h0M246 888h0M230 890h0M552 888h0M236 886h0M478 884h0M225 886h0M482 882h0M237 885h0M254 885h0M495 885h0M504 887h0M471 882h0M491 882h0M479 887h0M485 883h0M496 885h0M247 878h0M229 878h0M244 874h0M509 875h0M495 875h0M229 877h0M245 870h0M490 868h0M221 872h0M245 871h0M262 873h0M493 871h0M236 867h0M470 869h0M489 867h0M453 863h0M452 864h0M249 864h0M493 861h0M170 865h0M224 864h0M464 866h0M498 863h0M260 863h0M267 863h0M498 864h0M479 860h0M481 854h0M531 854h0M469 856h0M513 858h0M239 857h0M247 857h0M250 856h0M238 858h0M458 855h0M481 849h0M458 853h0M454 851h0M514 851h0M202 847h0M245 848h0M454 850h0M505 849h0M494 849h0M269 852h0M267 851h0M268 850h0M508 852h0M255 851h0M274 852h0M256 848h0M490 853h0M462 850h0M489 848h0M278 847h0M500 847h0M198 845h0M512 843h0M429 844h0M286 846h0M469 845h0M242 843h0M468 846h0M475 843h0M470 844h0M476 844h0M242 846h0M205 840h0M276 839h0M458 845h0M452 843h0M266 846h0M469 834h0M245 833h0M242 835h0M489 838h0M234 835h0M221 837h0M245 839h0M247 830h0M229 827h0M268 827h0M228 830h0M448 827h0M215 830h0M197 832h0M502 830h0M491 826h0M254 826h0M450 830h0M214 827h0M468 832h0M461 828h0M481 830h0M475 832h0M221 823h0M481 821h0M444 825h0M453 819h0M249 821h0M466 821h0M255 825h0M202 823h0M515 825h0M469 813h0M477 817h0M504 819h0M477 817h0M244 818h0M236 815h0M483 818h0M472 814h0M229 815h0M459 819h0M251 816h0M252 817h0M205 814h0M239 819h0M258 817h0M476 806h0M466 805h0M496 807h0M263 807h0M243 811h0M241 808h0M228 812h0M476 810h0M254 810h0M471 808h0M475 811h0M508 810h0M499 812h0M467 807h0M477 806h0M199 809h0M488 810h0M211 800h0M257 800h0M239 804h0M254 803h0M494 805h0M229 802h0M467 800h0M493 799h0M465 801h0M204 798h0M456 794h0M458 794h0M493 797h0M262 793h0M520 793h0M498 792h0M457 797h0M492 794h0M457 793h0M260 794h0M217 793h0M513 796h0M223 798h0M456 795h0M226 795h0M270 796h0M479 798h0M274 791h0M458 790h0M255 789h0M264 788h0M266 790h0M225 785h0M253 788h0M456 784h0M210 783h0M487 779h0M264 783h0M259 784h0M453 783h0M476 778h0M478 784h0M238 783h0M521 782h0M476 775h0M475 774h0M204 777h0M241 775h0M484 775h0M252 777h0M524 777h0M475 777h0M223 775h0M466 777h0M471 776h0M480 765h0M268 765h0M246 771h0M465 766h0M491 770h0M226 769h0M248 768h0M226 766h0M489 770h0M263 766h0M487 767h0M266 764h0M464 767h0M513 763h0M459 762h0M453 758h0M478 760h0M193 758h0M243 759h0M239 759h0M272 764h0M463 764h0M239 763h0M441 754h0M516 752h0M255 755h0M269 755h0M279 752h0M441 754h0M440 754h0M488 753h0M255 757h0M488 754h0M250 755h0M451 752h0M477 755h0M487 753h0M492 754h0M262 752h0M458 757h0M491 753h0M268 751h0M469 754h0M490 751h0M464 754h0M480 752h0M466 747h0M491 746h0M295 747h0M460 749h0M202 745h0M271 744h0M270 748h0M435 744h0M245 750h0M480 749h0M265 737h0M501 743h0M228 740h0M472 740h0M507 737h0M303 738h0M435 744h0M229 741h0M292 741h0M229 734h0M249 736h0M368 732h0M301 731h0M262 732h0M304 734h0M466 733h0M418 731h0M481 735h0M263 734h0M466 732h0M508 736h0M258 735h0M265 732h0M267 735h0M478 729h0M369 728h0M241 726h0M327 727h0M365 725h0M444 725h0M284 729h0M438 728h0M300 730h0M438 726h0M269 725h0M283 727h0M279 725h0M480 730h0M397 725h0M271 724h0M306 729h0M301 724h0M469 723h0M525 720h0M265 722h0M370 717h0M405 720h0M459 716h0M503 717h0M445 718h0M387 720h0M284 717h0M442 719h0M422 717h0M270 716h0M428 719h0M417 718h0M358 720h0M294 722h0M379 717h0M396 721h0M346 720h0M285 719h0M500 717h0M309 717h0M249 716h0M397 717h0M471 721h0M341 719h0M382 719h0M482 722h0M315 711h0M467 715h0M457 713h0M426 713h0M249 711h0M347 710h0M265 711h0M301 712h0M317 715h0M380 711h0M313 716h0M453 716h0M424 712h0M246 710h0M284 716h0M321 711h0M252 714h0M375 714h0M457 712h0M414 716h0M447 716h0M378 712h0M399 710h0M295 715h0M453 715h0M257 714h0M365 703h0M452 703h0M420 705h0M434 703h0M440 708h0M411 703h0M368 708h0M277 709h0M292 704h0M263 708h0M268 708h0M423 705h0M273 704h0M292 707h0M302 708h0M449 703h0M450 704h0M432 708h0M247 708h0M379 703h0M261 709h0M373 703h0M441 704h0M372 706h0M425 703h0M437 704h0M307 706h0M362 698h0M302 700h0M253 699h0M360 701h0M361 701h0M237 699h0M423 697h0M439 701h0M326 699h0M419 698h0M272 697h0M380 699h0M398 702h0M273 702h0M431 699h0M445 697h0M465 697h0M475 702h0M374 698h0M329 701h0M269 698h0M401 700h0M357 693h0M346 696h0M295 694h0M385 694h0M428 694h0M405 692h0M479 694h0M443 689h0M450 693h0M280 692h0M359 693h0M331 694h0M411 693h0M448 692h0M390 692h0M470 695h0M296 693h0M280 694h0M214 692h0M410 696h0M379 695h0M504 686h0M394 689h0M290 684h0M302 683h0M209 684h0M297 685h0M234 689h0M430 684h0M348 684h0M244 683h0M230 683h0M391 687h0M341 685h0M417 686h0M423 683h0M277 681h0M370 678h0M393 680h0M407 680h0M419 679h0M467 676h0M232 676h0M332 677h0M283 673h0M463 672h0M511 675h0M335 675h0M471 663h0M443 667h0M419 665h0M316 663h0M360 666h0M355 667h0M331 663h0M446 666h0M449 657h0M421 655h0M455 656h0M329 650h0M457 654h0M395 651h0M435 652h0M462 652h0M235 650h0M439 642h0M358 648h0M430 642h0M466 637h0M396 947h0M253 957h0M305 662h0M370 671h0M428 664h0M357 643h0M375 693h0M308 656h0M424 652h0" stroke="#0000ff" stroke-opacity="0.3" stroke-width="8.2" stroke-linecap="round" fill="none"/>
<path d="M480 980h0M334 983h0M371 977h0M306 938h0M440 932h0M319 933h0M330 934h0M413 935h0M408 928h0M387 928h0M395 928h0M279 928h0M312 928h0M361 928h0M338 928h0M178 928h0M413 928h0M314 928h0M323 928h0M251 928h0M501 928h0M264 928h0M331 928h0M491 928h0M295 928h0M480 928h0M401 928h0M431 928h0M422 928h0M380 928h0M245 926h0M285 926h0M280 923h0M404 923h0M373 920h0M323 921h0M291 920h0M301 916h0M450 916h0M415 917h0M341 918h0M292 910h0M335 912h0M475 913h0M445 915h0M419 912h0M473 912h0M193 912h0M348 914h0M298 912h0M305 912h0M287 911h0M313 910h0M246 908h0M441 912h0M448 908h0M478 908h0M408 913h0M314 912h0M428 915h0M297 910h0M378 913h0M385 914h0M427 912h0M274 913h0M372 914h0M418 913h0M441 914h0M355 914h0M392 911h0M235 901h0M496 904h0M227 906h0M494 903h0M451 904h0M187 904h0M498 902h0M463 904h0M291 907h0M488 906h0M491 901h0M265 906h0M281 908h0M505 896h0M479 897h0M481 900h0M200 901h0M492 896h0M476 897h0M492 893h0M229 888h0M471 888h0M199 893h0M536 889h0M512 892h0M541 891h0M479 881h0M488 881h0M500 883h0M241 883h0M472 883h0M233 885h0M471 879h0M470 874h0M230 874h0M213 879h0M282 876h0M499 878h0M213 878h0M494 874h0M520 881h0M469 878h0M178 875h0M488 868h0M509 873h0M501 870h0M494 870h0M238 867h0M455 868h0M484 872h0M241 870h0M507 870h0M459 867h0M480 868h0M262 869h0M241 868h0M483 866h0M501 860h0M446 861h0M243 866h0M235 861h0M488 861h0M456 860h0M245 863h0M521 865h0M465 865h0M487 862h0M466 860h0M288 854h0M284 853h0M461 858h0M461 858h0M261 855h0M528 856h0M202 857h0M270 859h0M483 858h0M479 855h0M233 853h0M460 850h0M260 848h0M497 848h0M467 847h0M496 851h0M459 848h0M489 851h0M285 852h0M495 853h0M516 851h0M406 851h0M476 851h0M288 848h0M264 849h0M221 850h0M532 846h0M256 842h0M237 845h0M233 846h0M268 843h0M506 840h0M277 843h0M463 845h0M269 840h0M254 842h0M452 841h0M487 834h0M509 839h0M275 838h0M429 839h0M506 839h0M510 837h0M284 833h0M476 837h0M253 834h0M233 838h0M470 837h0M471 836h0M283 837h0M266 830h0M238 828h0M514 828h0M472 826h0M263 829h0M459 828h0M249 829h0M512 832h0M467 819h0M258 821h0M469 823h0M259 819h0M451 819h0M492 824h0M451 824h0M243 825h0M257 825h0M251 818h0M236 819h0M479 818h0M259 814h0M246 819h0M447 818h0M260 812h0M209 807h0M475 806h0M215 808h0M476 811h0M249 812h0M233 808h0M464 807h0M251 805h0M259 806h0M195 810h0M258 806h0M250 811h0M532 804h0M247 799h0M243 802h0M476 800h0M237 803h0M466 802h0M259 799h0M266 795h0M467 793h0M211 792h0M248 797h0M479 793h0M474 794h0M263 794h0M491 797h0M472 792h0M480 796h0M275 793h0M464 794h0M507 794h0M540 796h0M484 789h0M489 786h0M270 787h0M270 792h0M228 787h0M259 790h0M264 791h0M244 788h0M262 791h0M485 788h0M534 788h0M518 789h0M235 789h0M268 786h0M259 786h0M265 785h0M522 784h0M235 784h0M467 784h0M241 779h0M478 782h0M501 777h0M504 776h0M489 777h0M246 777h0M236 774h0M259 776h0M473 775h0M247 775h0M226 778h0M250 774h0M494 772h0M244 775h0M262 776h0M221 767h0M496 765h0M507 770h0M482 765h0M258 771h0M246 769h0M263 767h0M267 767h0M506 764h0M501 760h0M257 759h0M513 764h0M248 759h0M242 764h0M187 762h0M472 763h0M269 757h0M240 755h0M523 755h0M234 753h0M206 754h0M474 755h0M195 755h0M488 751h0M540 754h0M480 751h0M443 754h0M266 747h0M553 746h0M447 748h0M504 748h0M298 750h0M466 746h0M497 745h0M436 748h0M302 750h0M276 750h0M512 746h0M437 745h0M299 737h0M484 739h0M302 743h0M280 743h0M486 738h0M282 742h0M232 741h0M279 743h0M501 738h0M224 743h0M478 744h0M457 740h0M449 741h0M293 738h0M197 743h0M293 740h0M243 742h0M488 741h0M447 741h0M452 737h0M291 742h0M244 731h0M424 734h0M264 736h0M269 737h0M366 731h0M425 736h0M474 733h0M386 736h0M300 731h0M458 736h0M464 732h0M358 733h0M450 727h0M489 727h0M275 725h0M478 725h0M278 730h0M418 725h0M358 728h0M468 728h0M361 727h0M334 725h0M234 723h0M485 728h0M409 724h0M451 729h0M348 725h0M421 729h0M468 725h0M317 725h0M307 730h0M477 726h0M256 725h0M276 729h0M396 723h0M271 720h0M423 722h0M409 718h0M480 719h0M422 717h0M445 723h0M334 721h0M354 723h0M348 718h0M279 720h0M346 720h0M340 717h0M491 722h0M436 718h0M347 722h0M292 717h0M284 717h0M434 722h0M381 720h0M258 721h0M381 722h0M351 719h0M303 718h0M413 717h0M391 722h0M328 717h0M360 721h0M339 720h0M433 721h0M449 719h0M414 722h0M329 719h0M357 722h0M381 719h0M170 713h0M276 716h0M391 716h0M395 714h0M409 711h0M256 710h0M356 711h0M296 710h0M468 713h0M407 714h0M346 711h0M445 713h0M245 714h0M331 713h0M308 711h0M331 712h0M332 710h0M392 711h0M339 710h0M278 711h0M239 711h0M331 709h0M385 707h0M321 703h0M482 705h0M254 705h0M370 708h0M445 704h0M472 703h0M367 706h0M325 706h0M250 707h0M249 705h0M379 707h0M354 706h0M355 703h0M339 709h0M239 709h0M344 707h0M453 705h0M296 708h0M426 706h0M328 708h0M450 705h0M436 704h0M308 708h0M292 706h0M279 708h0M255 705h0M447 709h0M265 698h0M271 699h0M430 702h0M375 702h0M345 699h0M345 697h0M449 698h0M290 696h0M236 699h0M322 699h0M469 698h0M437 702h0M448 699h0M386 696h0M289 697h0M425 700h0M340 696h0M441 697h0M412 698h0M344 703h0M424 700h0M398 701h0M287 699h0M323 696h0M358 699h0M344 693h0M434 692h0M314 691h0M449 691h0M290 693h0M397 694h0M386 693h0M341 692h0M262 692h0M304 692h0M294 690h0M446 693h0M280 692h0M284 690h0M278 696h0M384 691h0M333 690h0M336 695h0M343 690h0M330 684h0M304 688h0M334 687h0M274 683h0M322 689h0M384 682h0M317 688h0M329 687h0M323 684h0M413 686h0M220 688h0M369 683h0M365 687h0M473 683h0M389 683h0M231 685h0M351 677h0M258 679h0M269 676h0M301 677h0M305 675h0M359 679h0M302 679h0M459 677h0M319 676h0M286 678h0M461 679h0M212 669h0M414 672h0M467 672h0M380 673h0M373 669h0M279 675h0M510 670h0M301 671h0M452 672h0M391 674h0M347 668h0M164 665h0M237 662h0M304 667h0M256 666h0M299 668h0M263 658h0M336 659h0M358 652h0M441 649h0M452 654h0M346 650h0M374 651h0M401 641h0M372 643h0M454 639h0M479 635h0M422 640h0M450 693h0M273 641h0M426 691h0M445 644h0M309 677h0M413 679h0" stroke="#0000ff" stroke-opacity="0.3" stroke-width="8.2" stroke-linecap="round" fill="none"/>
<path d="M343 981h0M377 965h0M461 968h0M334 930h0M346 928h0M375 928h0M363 928h0M376 928h0M305 928h0M483 928h0M304 928h0M317 928h0M339 928h0M326 928h0M276 928h0M377 928h0M506 928h0M388 928h0M438 928h0M417 928h0M449 928h0M260 928h0M311 928h0M392 928h0M443 928h0M378 928h0M311 928h0M405 927h0M296 925h0M331 925h0M307 917h0M279 917h0M369 916h0M421 920h0M432 919h0M256 916h0M331 921h0M462 912h0M440 909h0M460 909h0M385 911h0M396 914h0M414 911h0M352 914h0M392 912h0M366 915h0M271 913h0M253 913h0M300 910h0M446 912h0M414 912h0M307 915h0M304 913h0M460 909h0M237 915h0M404 912h0M404 913h0M305 913h0M314 914h0M369 913h0M303 914h0M322 909h0M446 914h0M424 911h0M406 915h0M402 910h0M465 914h0M289 909h0M339 914h0M375 913h0M423 911h0M413 912h0M466 906h0M470 906h0M215 904h0M471 906h0M476 902h0M449 904h0M280 905h0M250 897h0M498 896h0M235 895h0M226 898h0M500 894h0M201 899h0M504 897h0M513 896h0M477 895h0M517 891h0M243 890h0M511 894h0M194 888h0M485 891h0M472 890h0M539 882h0M500 883h0M479 885h0M236 885h0M219 882h0M503 885h0M243 882h0M504 881h0M241 874h0M262 875h0M278 879h0M477 877h0M252 880h0M474 879h0M204 880h0M260 879h0M259 876h0M543 879h0M501 880h0M260 870h0M481 873h0M495 868h0M449 867h0M469 872h0M197 869h0M262 870h0M463 867h0M527 868h0M467 865h0M452 863h0M448 861h0M253 861h0M483 866h0M465 864h0M452 864h0M477 864h0M201 863h0M444 862h0M483 860h0M273 854h0M231 855h0M481 859h0M250 860h0M200 858h0M479 858h0M243 856h0M267 860h0M441 858h0M282 854h0M515 855h0M243 857h0M521 860h0M250 855h0M235 858h0M261 859h0M259 853h0M408 853h0M221 849h0M264 849h0M406 850h0M283 852h0M460 853h0M258 852h0M288 853h0M469 846h0M264 849h0M272 853h0M232 842h0M549 846h0M284 846h0M471 840h0M251 841h0M211 842h0M240 842h0M237 841h0M428 844h0M449 843h0M234 836h0M254 838h0M269 837h0M258 837h0M278 839h0M474 837h0M503 838h0M279 839h0M213 833h0M275 836h0M470 835h0M192 827h0M218 826h0M230 828h0M200 830h0M231 832h0M478 830h0M265 832h0M453 831h0M467 828h0M489 830h0M205 831h0M484 826h0M248 831h0M451 832h0M236 826h0M494 825h0M211 822h0M479 822h0M233 822h0M229 821h0M260 824h0M480 825h0M484 825h0M476 823h0M488 824h0M485 825h0M246 825h0M512 813h0M454 819h0M474 816h0M261 814h0M254 818h0M485 819h0M517 812h0M508 815h0M205 816h0M236 817h0M261 814h0M235 814h0M246 817h0M474 817h0M244 811h0M250 811h0M245 806h0M252 809h0M250 811h0M524 812h0M477 809h0M468 808h0M236 810h0M235 808h0M248 808h0M490 802h0M480 805h0M482 800h0M235 805h0M466 802h0M207 799h0M461 803h0M235 803h0M473 801h0M475 800h0M257 801h0M187 804h0M477 805h0M481 804h0M249 794h0M204 796h0M262 796h0M477 798h0M470 792h0M510 796h0M466 798h0M455 795h0M269 795h0M206 792h0M490 792h0M269 794h0M259 785h0M246 789h0M251 786h0M272 789h0M262 787h0M475 787h0M494 788h0M256 786h0M255 789h0M505 788h0M470 788h0M211 789h0M273 788h0M245 782h0M253 780h0M478 784h0M469 781h0M253 785h0M245 782h0M476 782h0M502 784h0M504 783h0M476 785h0M255 781h0M495 774h0M459 773h0M460 776h0M234 778h0M498 772h0M226 777h0M237 771h0M469 777h0M471 776h0M258 767h0M496 766h0M260 769h0M486 768h0M265 767h0M210 766h0M476 769h0M256 760h0M475 760h0M487 761h0M458 762h0M460 763h0M234 762h0M469 764h0M257 760h0M486 762h0M452 753h0M274 751h0M464 755h0M243 751h0M241 754h0M432 753h0M229 755h0M481 753h0M237 756h0M467 754h0M484 757h0M486 755h0M266 753h0M480 751h0M247 749h0M272 745h0M290 745h0M463 749h0M262 750h0M251 747h0M517 748h0M229 745h0M466 748h0M223 745h0M459 747h0M480 749h0M429 745h0M496 748h0M297 748h0M436 745h0M249 746h0M268 741h0M250 742h0M290 739h0M252 743h0M421 737h0M239 740h0M299 743h0M294 743h0M299 737h0M446 741h0M462 739h0M264 738h0M509 743h0M295 742h0M425 734h0M263 734h0M296 735h0M471 732h0M366 733h0M233 732h0M260 732h0M440 736h0M385 733h0M270 733h0M468 732h0M280 735h0M485 736h0M468 733h0M252 734h0M261 733h0M366 730h0M470 733h0M460 733h0M362 734h0M254 734h0M437 728h0M279 725h0M455 725h0M307 724h0M218 728h0M276 725h0M366 724h0M479 729h0M422 727h0M280 723h0M424 725h0M359 727h0M282 725h0M504 729h0M368 724h0M245 729h0M454 730h0M450 724h0M435 729h0M257 725h0M481 720h0M285 721h0M266 719h0M444 723h0M299 719h0M417 721h0M409 721h0M296 721h0M460 719h0M286 718h0M449 723h0M259 722h0M300 721h0M421 723h0M408 722h0M331 722h0M428 723h0M299 722h0M393 718h0M458 719h0M245 719h0M267 720h0M264 720h0M320 719h0M409 716h0M440 714h0M269 715h0M341 715h0M392 714h0M320 710h0M323 714h0M391 714h0M484 716h0M379 715h0M279 715h0M348 711h0M408 715h0M373 711h0M314 714h0M415 714h0M303 713h0M347 711h0M346 711h0M519 710h0M429 714h0M492 715h0M256 716h0M307 712h0M354 713h0M271 716h0M337 710h0M456 710h0M297 714h0M384 711h0M300 716h0M339 709h0M421 704h0M395 704h0M350 705h0M383 709h0M437 708h0M440 707h0M336 708h0M348 707h0M357 705h0M307 703h0M417 706h0M370 708h0M378 708h0M316 706h0M472 703h0M431 709h0M477 707h0M342 709h0M348 704h0M363 706h0M448 705h0M304 709h0M302 709h0M314 709h0M307 697h0M404 698h0M365 703h0M258 697h0M371 702h0M290 699h0M303 700h0M432 696h0M249 701h0M441 699h0M333 699h0M236 698h0M274 701h0M402 698h0M405 698h0M264 697h0M402 699h0M312 699h0M307 700h0M249 700h0M365 700h0M262 692h0M354 693h0M324 689h0M497 690h0M383 693h0M369 695h0M249 690h0M255 690h0M282 695h0M275 691h0M268 693h0M466 692h0M331 693h0M364 695h0M383 694h0M322 693h0M327 689h0M260 690h0M371 692h0M328 690h0M305 690h0M326 689h0M265 691h0M412 693h0M181 691h0M342 687h0M452 683h0M406 685h0M362 687h0M475 688h0M519 687h0M435 688h0M347 684h0M369 687h0M326 684h0M413 685h0M358 687h0M464 676h0M341 681h0M246 681h0M405 681h0M352 679h0M501 677h0M396 679h0M442 679h0M243 677h0M455 676h0M227 680h0M513 680h0M451 673h0M284 672h0M374 675h0M277 671h0M395 670h0M324 674h0M420 665h0M382 662h0M279 663h0M286 665h0M232 667h0M488 659h0M355 660h0M249 656h0M358 659h0M360 659h0M351 653h0M472 652h0M374 631h0M432 958h0M360 961h0M375 970h0M379 654h0M294 651h0M445 672h0M311 673h0M241 671h0M425 659h0M468 687h0M252 683h0M445 668h0M356 671h0M350 674h0" stroke="#0000ff" stroke-opacity="0.3" stroke-width="8.2" stroke-linecap="round" fill="none"/>
<path d="M322 977h0M375 933h0M309 934h0M258 931h0M337 928h0M307 928h0M345 928h0M375 928h0M341 928h0M329 928h0M469 928h0M321 928h0M433 928h0M428 928h0M412 928h0M421 928h0M448 928h0M264 927h0M505 925h0M311 926h0M422 926h0M411 927h0M366 918h0M475 917h0M430 919h0M450 921h0M450 915h0M268 921h0M431 916h0M290 916h0M372 920h0M299 917h0M335 918h0M299 918h0M220 913h0M396 912h0M506 914h0M366 914h0M340 914h0M225 912h0M279 911h0M319 911h0M385 912h0M259 910h0M455 910h0M416 913h0M404 913h0M330 912h0M383 910h0M428 909h0M449 914h0M499 914h0M467 914h0M473 914h0M379 912h0M291 915h0M408 911h0M291 913h0M299 914h0M265 905h0M250 904h0M248 907h0M255 904h0M251 906h0M226 904h0M469 904h0M252 905h0M240 902h0M492 906h0M277 907h0M500 905h0M228 905h0M293 907h0M224 902h0M266 905h0M240 904h0M497 895h0M240 895h0M238 898h0M488 896h0M226 897h0M244 897h0M529 899h0M495 896h0M217 896h0M252 900h0M536 896h0M510 898h0M502 890h0M243 890h0M478 888h0M224 888h0M244 889h0M246 883h0M459 883h0M222 886h0M225 884h0M488 885h0M514 879h0M498 876h0M256 875h0M249 875h0M276 878h0M275 875h0M522 876h0M225 878h0M486 877h0M472 877h0M183 867h0M486 867h0M474 873h0M465 867h0M258 871h0M223 872h0M494 867h0M225 871h0M497 864h0M467 866h0M234 865h0M231 861h0M265 866h0M492 862h0M243 866h0M217 866h0M244 860h0M454 863h0M476 862h0M259 860h0M489 856h0M502 857h0M286 854h0M279 854h0M470 855h0M253 856h0M260 859h0M473 854h0M455 860h0M456 857h0M241 856h0M503 858h0M268 860h0M246 848h0M512 850h0M249 851h0M411 853h0M269 853h0M246 852h0M471 852h0M497 850h0M456 851h0M281 853h0M508 852h0M427 842h0M237 842h0M427 841h0M270 845h0M271 844h0M516 840h0M505 844h0M224 845h0M284 845h0M461 846h0M254 841h0M202 846h0M523 839h0M277 836h0M279 838h0M480 838h0M254 833h0M522 839h0M238 834h0M270 834h0M476 838h0M259 835h0M496 835h0M261 835h0M272 836h0M250 828h0M255 828h0M221 828h0M268 831h0M483 828h0M469 830h0M468 830h0M250 832h0M465 827h0M495 828h0M510 831h0M500 828h0M247 827h0M256 830h0M251 825h0M450 823h0M250 824h0M470 820h0M486 824h0M241 822h0M253 823h0M250 815h0M260 815h0M243 813h0M252 818h0M499 815h0M249 819h0M243 815h0M497 812h0M238 819h0M249 811h0M233 809h0M470 806h0M217 810h0M261 810h0M255 805h0M260 802h0M208 799h0M243 804h0M226 799h0M492 804h0M501 803h0M213 799h0M463 805h0M465 793h0M473 798h0M255 796h0M510 796h0M241 796h0M266 794h0M262 795h0M500 794h0M268 794h0M457 795h0M234 789h0M504 786h0M454 789h0M250 786h0M267 788h0M253 787h0M455 788h0M272 790h0M267 788h0M478 786h0M252 785h0M474 778h0M469 779h0M470 783h0M505 782h0M238 782h0M218 783h0M469 782h0M258 778h0M474 779h0M483 780h0M474 777h0M254 776h0M461 773h0M257 775h0M513 773h0M460 773h0M493 776h0M477 775h0M221 769h0M263 767h0M474 765h0M460 767h0M218 769h0M265 767h0M211 771h0M483 768h0M264 760h0M478 761h0M455 759h0M498 762h0M478 762h0M520 762h0M473 759h0M496 762h0M492 760h0M472 757h0M471 764h0M490 762h0M451 755h0M265 751h0M442 753h0M464 754h0M223 757h0M518 754h0M445 753h0M490 754h0M479 755h0M434 751h0M492 755h0M195 751h0M504 751h0M214 755h0M487 746h0M449 747h0M505 748h0M279 745h0M261 749h0M466 748h0M466 744h0M452 744h0M464 744h0M444 749h0M491 747h0M253 749h0M438 746h0M305 738h0M513 739h0M280 743h0M300 742h0M524 743h0M474 742h0M504 743h0M462 744h0M282 738h0M464 740h0M302 738h0M473 737h0M238 739h0M278 739h0M434 742h0M300 733h0M304 736h0M365 733h0M303 734h0M527 730h0M459 736h0M500 734h0M283 732h0M467 731h0M258 736h0M253 737h0M482 730h0M258 734h0M561 734h0M358 732h0M249 737h0M479 729h0M437 725h0M333 726h0M477 730h0M271 725h0M314 724h0M364 728h0M211 725h0M349 724h0M467 727h0M318 724h0M334 725h0M403 723h0M266 728h0M272 723h0M395 724h0M451 723h0M328 726h0M442 729h0M225 725h0M252 726h0M351 728h0M468 723h0M349 729h0M399 717h0M215 720h0M299 723h0M435 719h0M447 719h0M331 721h0M351 723h0M330 717h0M338 718h0M309 723h0M346 719h0M313 723h0M398 723h0M294 723h0M475 718h0M325 722h0M399 719h0M446 722h0M281 716h0M349 722h0M263 722h0M243 722h0M384 721h0M415 722h0M434 720h0M307 716h0M405 713h0M354 714h0M366 713h0M299 714h0M479 713h0M311 715h0M524 710h0M378 713h0M263 715h0M255 711h0M273 715h0M308 715h0M419 713h0M429 713h0M387 716h0M389 716h0M405 714h0M412 712h0M352 714h0M365 709h0M281 703h0M468 708h0M436 708h0M340 709h0M283 703h0M344 703h0M244 707h0M486 704h0M219 704h0M287 709h0M465 703h0M416 707h0M426 705h0M426 704h0M420 708h0M421 707h0M408 707h0M332 707h0M349 706h0M293 705h0M411 703h0M387 703h0M412 708h0M306 707h0M341 706h0M262 696h0M315 702h0M472 699h0M455 699h0M446 699h0M432 701h0M461 699h0M457 699h0M387 702h0M326 697h0M296 696h0M260 696h0M357 702h0M422 698h0M295 702h0M316 702h0M446 701h0M355 701h0M316 697h0M247 692h0M302 692h0M312 692h0M347 692h0M410 693h0M416 691h0M325 695h0M276 692h0M496 694h0M251 690h0M342 691h0M362 691h0M263 695h0M424 688h0M382 688h0M394 688h0M284 684h0M375 683h0M378 688h0M385 688h0M473 685h0M460 680h0M266 677h0M448 679h0M430 681h0M437 678h0M401 678h0M440 679h0M335 678h0M402 680h0M427 681h0M455 675h0M424 669h0M327 672h0M338 675h0M352 674h0M320 671h0M347 674h0M454 672h0M428 673h0M247 669h0M316 670h0M340 667h0M433 666h0M389 662h0M355 664h0M457 664h0M362 663h0M469 666h0M413 666h0M358 666h0M444 667h0M371 665h0M352 656h0M421 661h0M264 654h0M430 649h0M273 649h0M407 654h0M447 653h0M364 648h0M303 646h0M328 640h0M306 622h0M181 945h0M307 642h0M317 646h0M195 656h0M353 652h0M383 656h0M398 658h0M376 667h0M270 651h0M281 663h0M490 682h0M430 678h0" stroke="#0000ff" stroke-opacity="0.3" stroke-width="8.2" stroke-linecap="round" fill="none"/>
<path d="M450 982h0M286 979h0M379 979h0M357 980h0M319 930h0M312 929h0M382 928h0M254 928h0M220 928h0M366 928h0M465 928h0M455 928h0M351 928h0M341 928h0M387 928h0M486 928h0M284 928h0M387 928h0M460 928h0M302 928h0M508 928h0M368 927h0M468 927h0M318 927h0M463 923h0M359 922h0M303 922h0M335 922h0M332 924h0M342 927h0M351 918h0M313 917h0M393 920h0M342 919h0M310 914h0M463 912h0M260 910h0M241 909h0M184 911h0M318 914h0M296 909h0M399 911h0M331 911h0M405 913h0M322 909h0M281 910h0M334 912h0M414 914h0M269 905h0M469 906h0M258 903h0M469 903h0M253 908h0M286 907h0M280 907h0M216 898h0M480 895h0M479 895h0M249 899h0M496 898h0M212 900h0M204 898h0M253 900h0M233 888h0M223 888h0M480 893h0M217 888h0M204 887h0M489 885h0M494 887h0M508 883h0M483 877h0M479 880h0M499 879h0M278 876h0M482 876h0M472 877h0M231 877h0M514 880h0M239 879h0M280 879h0M263 868h0M210 871h0M249 869h0M512 871h0M248 871h0M233 871h0M236 873h0M243 868h0M254 867h0M461 867h0M218 862h0M455 861h0M219 862h0M262 865h0M260 857h0M468 858h0M273 853h0M483 859h0M485 855h0M481 854h0M252 857h0M458 856h0M514 854h0M490 850h0M284 847h0M477 853h0M163 850h0M491 853h0M270 852h0M286 850h0M405 848h0M488 852h0M201 847h0M272 851h0M266 850h0M255 841h0M281 846h0M250 840h0M427 840h0M523 841h0M259 844h0M445 841h0M267 842h0M277 844h0M276 839h0M276 845h0M224 843h0M254 842h0M274 843h0M472 843h0M477 838h0M280 833h0M274 835h0M257 834h0M270 835h0M496 836h0M269 833h0M497 826h0M255 832h0M249 828h0M269 828h0M447 830h0M467 831h0M453 827h0M249 828h0M268 827h0M473 831h0M260 831h0M454 819h0M443 823h0M470 822h0M241 820h0M447 825h0M249 823h0M468 825h0M258 821h0M453 826h0M452 826h0M497 820h0M482 820h0M486 822h0M507 819h0M461 824h0M487 825h0M221 816h0M486 813h0M469 815h0M225 815h0M211 816h0M236 812h0M475 809h0M509 811h0M208 810h0M243 811h0M472 806h0M475 806h0M513 810h0M467 811h0M466 802h0M502 800h0M485 804h0M500 803h0M494 800h0M253 803h0M483 803h0M497 799h0M475 794h0M486 792h0M238 792h0M193 795h0M270 796h0M256 795h0M501 794h0M466 797h0M253 798h0M456 789h0M250 791h0M235 785h0M485 788h0M475 790h0M518 789h0M494 787h0M255 787h0M465 788h0M248 779h0M478 784h0M503 783h0M243 782h0M231 785h0M253 781h0M257 781h0M261 782h0M231 781h0M232 772h0M247 772h0M519 777h0M208 777h0M221 777h0M240 775h0M477 773h0M488 777h0M497 768h0M182 770h0M226 770h0M241 768h0M236 766h0M272 766h0M474 769h0M271 760h0M451 759h0M465 759h0M212 762h0M478 760h0M464 763h0M226 758h0M506 762h0M505 764h0M471 763h0M458 758h0M265 759h0M472 759h0M488 757h0M459 762h0M437 756h0M468 753h0M433 756h0M450 752h0M443 755h0M270 755h0M235 754h0M269 757h0M452 757h0M459 753h0M259 751h0M269 751h0M264 753h0M456 752h0M256 756h0M256 753h0M239 746h0M267 749h0M449 747h0M485 748h0M221 751h0M303 744h0M260 748h0M201 740h0M384 737h0M272 741h0M506 744h0M491 743h0M281 741h0M484 740h0M278 742h0M262 742h0M455 738h0M287 742h0M258 740h0M452 738h0M280 740h0M255 734h0M441 732h0M260 735h0M523 731h0M440 732h0M440 734h0M475 735h0M436 732h0M430 730h0M422 731h0M514 731h0M281 732h0M208 734h0M359 732h0M435 728h0M268 727h0M351 725h0M406 726h0M424 728h0M264 726h0M358 725h0M316 725h0M370 725h0M209 727h0M449 725h0M406 724h0M308 725h0M369 729h0M496 730h0M354 728h0M433 728h0M303 729h0M431 726h0M415 724h0M413 724h0M401 725h0M430 726h0M262 725h0M438 728h0M364 725h0M404 717h0M367 717h0M241 722h0M233 720h0M279 723h0M448 722h0M281 722h0M294 717h0M310 720h0M319 719h0M250 717h0M393 718h0M421 723h0M468 720h0M446 721h0M464 719h0M421 719h0M285 721h0M390 719h0M358 721h0M296 723h0M400 717h0M464 722h0M281 717h0M366 714h0M269 711h0M497 710h0M431 710h0M473 713h0M388 713h0M417 710h0M442 714h0M483 711h0M431 712h0M343 713h0M445 713h0M363 715h0M331 716h0M415 712h0M345 715h0M255 710h0M414 715h0M338 716h0M250 712h0M419 714h0M253 713h0M236 714h0M381 710h0M324 713h0M326 716h0M372 715h0M484 710h0M327 714h0M476 716h0M284 711h0M305 709h0M305 706h0M245 708h0M255 704h0M282 703h0M452 705h0M254 708h0M308 704h0M280 706h0M371 704h0M286 708h0M335 704h0M290 708h0M411 706h0M422 708h0M306 707h0M398 703h0M456 703h0M437 709h0M460 706h0M338 704h0M310 704h0M423 698h0M329 698h0M382 698h0M303 702h0M375 696h0M504 702h0M334 702h0M498 702h0M454 700h0M404 701h0M382 699h0M444 697h0M491 696h0M333 699h0M309 699h0M322 698h0M221 700h0M282 702h0M379 701h0M256 700h0M287 696h0M283 703h0M319 700h0M401 701h0M471 696h0M446 697h0M453 697h0M395 699h0M312 696h0M491 702h0M381 697h0M458 697h0M391 701h0M399 692h0M398 689h0M326 691h0M311 692h0M327 695h0M306 690h0M396 694h0M299 693h0M402 694h0M470 691h0M388 695h0M256 695h0M368 690h0M299 695h0M305 691h0M331 691h0M298 690h0M472 694h0M440 691h0M461 696h0M517 687h0M304 683h0M265 687h0M266 686h0M393 683h0M490 683h0M291 683h0M436 683h0M340 688h0M354 688h0M394 685h0M463 683h0M276 685h0M292 684h0M290 677h0M280 680h0M354 679h0M236 671h0M303 675h0M440 672h0M286 675h0M350 670h0M334 675h0M255 670h0M241 675h0M364 668h0M326 662h0M329 663h0M323 667h0M227 668h0M442 668h0M300 663h0M259 664h0M371 666h0M389 665h0M359 663h0M443 665h0M426 656h0M428 653h0M372 650h0M383 652h0M391 653h0M305 651h0M485 652h0M341 646h0M452 646h0M306 621h0M335 965h0M428 958h0M409 934h0M321 652h0M462 649h0M377 683h0M371 661h0M452 656h0M398 645h0M246 648h0M300 680h0M351 686h0M429 668h0M390 671h0M537 650h0M406 642h0M408 679h0M291 678h0M408 689h0M401 686h0M279 671h0M434 679h0" stroke="#0000ff" stroke-opacity="0.3" stroke-width="8.2" stroke-linecap="round" fill="none"/>
<line x1="151.9" y1="787" x2="545.9" y2="834.4" stroke="#000" stroke-width="4.6" />
<text transform="translate(152.6 633.3) scale(1.044 1)" font-size="20" text-anchor="start" fill="#000" font-family='"Liberation Sans", sans-serif' ><tspan font-style="italic">y</tspan> = 5.37 &#8211; 0.287 <tspan font-style="italic">x</tspan>   <tspan font-style="italic">R</tspan><tspan font-size="13.2" dy="-8.2">2</tspan><tspan dy="8.2"> = 0.0043</tspan></text>
<rect x="131.2" y="594.1" width="435.1" height="407.7" fill="none" stroke="#333" stroke-width="1.7" />
<line x1="125.2" y1="985.8" x2="131.2" y2="985.8" stroke="#1a1a1a" stroke-width="1.8" />
<text transform="translate(110.4 996.2) scale(1.085 1)" font-size="25" text-anchor="end" fill="#4d4d4d" font-family='"Liberation Sans", sans-serif' >$10</text>
<text transform="translate(109.9 983.4) scale(1.15 1)" font-size="16" text-anchor="start" fill="#4d4d4d" font-family='"Liberation Sans", sans-serif' >2</text>
<line x1="125.2" y1="897.4" x2="131.2" y2="897.4" stroke="#1a1a1a" stroke-width="1.8" />
<text transform="translate(110.4 907.8) scale(1.085 1)" font-size="25" text-anchor="end" fill="#4d4d4d" font-family='"Liberation Sans", sans-serif' >$10</text>
<text transform="translate(109.9 895) scale(1.15 1)" font-size="16" text-anchor="start" fill="#4d4d4d" font-family='"Liberation Sans", sans-serif' >3</text>
<line x1="125.2" y1="809" x2="131.2" y2="809" stroke="#1a1a1a" stroke-width="1.8" />
<text transform="translate(110.4 819.4) scale(1.085 1)" font-size="25" text-anchor="end" fill="#4d4d4d" font-family='"Liberation Sans", sans-serif' >$10</text>
<text transform="translate(109.9 806.6) scale(1.15 1)" font-size="16" text-anchor="start" fill="#4d4d4d" font-family='"Liberation Sans", sans-serif' >4</text>
<line x1="125.2" y1="720.6" x2="131.2" y2="720.6" stroke="#1a1a1a" stroke-width="1.8" />
<text transform="translate(110.4 731) scale(1.085 1)" font-size="25" text-anchor="end" fill="#4d4d4d" font-family='"Liberation Sans", sans-serif' >$10</text>
<text transform="translate(109.9 718.2) scale(1.15 1)" font-size="16" text-anchor="start" fill="#4d4d4d" font-family='"Liberation Sans", sans-serif' >5</text>
<line x1="125.2" y1="632.2" x2="131.2" y2="632.2" stroke="#1a1a1a" stroke-width="1.8" />
<text transform="translate(110.4 642.6) scale(1.085 1)" font-size="25" text-anchor="end" fill="#4d4d4d" font-family='"Liberation Sans", sans-serif' >$10</text>
<text transform="translate(109.9 629.8) scale(1.15 1)" font-size="16" text-anchor="start" fill="#4d4d4d" font-family='"Liberation Sans", sans-serif' >6</text>
<line x1="177.2" y1="1001.8" x2="177.2" y2="1007.3" stroke="#333" stroke-width="1.6" />
<text transform="translate(150.5 1034.6) scale(1.06 1)" font-size="25" text-anchor="start" fill="#4d4d4d" font-family='"Liberation Sans", sans-serif' >$10</text>
<text transform="translate(195.5 1021.8) scale(1.15 1)" font-size="16" text-anchor="start" fill="#4d4d4d" font-family='"Liberation Sans", sans-serif' >4</text>
<line x1="281.2" y1="1001.8" x2="281.2" y2="1007.3" stroke="#333" stroke-width="1.6" />
<text transform="translate(246.8 1034.6) scale(1.06 1)" font-size="25" text-anchor="start" fill="#4d4d4d" font-family='"Liberation Sans", sans-serif' >$10</text>
<text transform="translate(291.8 1021.8) scale(1.15 1)" font-size="16" text-anchor="start" fill="#4d4d4d" font-family='"Liberation Sans", sans-serif' >4.5</text>
<line x1="385.2" y1="1001.8" x2="385.2" y2="1007.3" stroke="#333" stroke-width="1.6" />
<text transform="translate(358.5 1034.6) scale(1.06 1)" font-size="25" text-anchor="start" fill="#4d4d4d" font-family='"Liberation Sans", sans-serif' >$10</text>
<text transform="translate(403.5 1021.8) scale(1.15 1)" font-size="16" text-anchor="start" fill="#4d4d4d" font-family='"Liberation Sans", sans-serif' >5</text>
<line x1="489.2" y1="1001.8" x2="489.2" y2="1007.3" stroke="#333" stroke-width="1.6" />
<text transform="translate(454.8 1034.6) scale(1.06 1)" font-size="25" text-anchor="start" fill="#4d4d4d" font-family='"Liberation Sans", sans-serif' >$10</text>
<text transform="translate(499.8 1021.8) scale(1.15 1)" font-size="16" text-anchor="start" fill="#4d4d4d" font-family='"Liberation Sans", sans-serif' >5.5</text>
<text transform="translate(348.3 1070.4) scale(1.11 1)" font-size="31.5" text-anchor="middle" fill="#000" font-family='"Liberation Sans", sans-serif' >median_income</text>
<text transform="translate(51.2 799) rotate(-90) scale(1 1.08)" font-size="31" text-anchor="middle" fill="#000" font-family='"Liberation Sans", sans-serif' >1 year expenses, $</text>
<rect x="717" y="616.8" width="294.1" height="414.7" fill="#fff" stroke="none" stroke-width="1" />
<line x1="717" y1="969.8" x2="1011.1" y2="969.8" stroke="#eeeeee" stroke-width="0.8" />
<line x1="717" y1="880.2" x2="1011.1" y2="880.2" stroke="#eeeeee" stroke-width="0.8" />
<line x1="717" y1="790.6" x2="1011.1" y2="790.6" stroke="#eeeeee" stroke-width="0.8" />
<line x1="717" y1="701" x2="1011.1" y2="701" stroke="#eeeeee" stroke-width="0.8" />
<line x1="717" y1="1014.6" x2="1011.1" y2="1014.6" stroke="#e1e1e1" stroke-width="1.4" />
<line x1="717" y1="925" x2="1011.1" y2="925" stroke="#e1e1e1" stroke-width="1.4" />
<line x1="717" y1="835.4" x2="1011.1" y2="835.4" stroke="#e1e1e1" stroke-width="1.4" />
<line x1="717" y1="745.8" x2="1011.1" y2="745.8" stroke="#e1e1e1" stroke-width="1.4" />
<line x1="717" y1="656.2" x2="1011.1" y2="656.2" stroke="#e1e1e1" stroke-width="1.4" />
<line x1="797" y1="616.8" x2="797" y2="1031.5" stroke="#e1e1e1" stroke-width="1.4" />
<line x1="930.7" y1="616.8" x2="930.7" y2="1031.5" stroke="#e1e1e1" stroke-width="1.4" />
<path d="M717 1028.48h6.5M717 1023.28h6.5M717 1018.70h6.5M717 1014.60h17.4M717 987.63h6.5M717 971.85h6.5M717 960.66h6.5M717 951.97h11.7M717 944.88h6.5M717 938.88h6.5M717 933.68h6.5M717 929.10h6.5M717 925.00h17.4M717 898.03h6.5M717 882.25h6.5M717 871.06h6.5M717 862.37h11.7M717 855.28h6.5M717 849.28h6.5M717 844.08h6.5M717 839.50h6.5M717 835.40h17.4M717 808.43h6.5M717 792.65h6.5M717 781.46h6.5M717 772.77h11.7M717 765.68h6.5M717 759.68h6.5M717 754.48h6.5M717 749.90h6.5M717 745.80h17.4M717 718.83h6.5M717 703.05h6.5M717 691.86h6.5M717 683.17h11.7M717 676.08h6.5M717 670.08h6.5M717 664.88h6.5M717 660.30h6.5M717 656.20h17.4M717 629.23h6.5" stroke="#111" stroke-width="1.6" fill="none"/>
<path d="M1011.1 1028.48h-6.5M1011.1 1023.28h-6.5M1011.1 1018.70h-6.5M1011.1 1014.60h-17.4M1011.1 987.63h-6.5M1011.1 971.85h-6.5M1011.1 960.66h-6.5M1011.1 951.97h-11.7M1011.1 944.88h-6.5M1011.1 938.88h-6.5M1011.1 933.68h-6.5M1011.1 929.10h-6.5M1011.1 925.00h-17.4M1011.1 898.03h-6.5M1011.1 882.25h-6.5M1011.1 871.06h-6.5M1011.1 862.37h-11.7M1011.1 855.28h-6.5M1011.1 849.28h-6.5M1011.1 844.08h-6.5M1011.1 839.50h-6.5M1011.1 835.40h-17.4M1011.1 808.43h-6.5M1011.1 792.65h-6.5M1011.1 781.46h-6.5M1011.1 772.77h-11.7M1011.1 765.68h-6.5M1011.1 759.68h-6.5M1011.1 754.48h-6.5M1011.1 749.90h-6.5M1011.1 745.80h-17.4M1011.1 718.83h-6.5M1011.1 703.05h-6.5M1011.1 691.86h-6.5M1011.1 683.17h-11.7M1011.1 676.08h-6.5M1011.1 670.08h-6.5M1011.1 664.88h-6.5M1011.1 660.30h-6.5M1011.1 656.20h-17.4M1011.1 629.23h-6.5" stroke="#111" stroke-width="1.6" fill="none"/>
<line x1="797.1" y1="641.4" x2="797.1" y2="793.2" stroke="#333" stroke-width="1.75" />
<line x1="797.1" y1="897.8" x2="797.1" y2="1012" stroke="#333" stroke-width="1.75" />
<rect x="747.3" y="793.2" width="99.6" height="104.6" fill="#0000ff" stroke="#333" stroke-width="1.75" fill-opacity="0.25"/>
<line x1="747.3" y1="842.8" x2="846.9" y2="842.8" stroke="#333" stroke-width="3.6" />
<line x1="930.7" y1="636" x2="930.7" y2="785.5" stroke="#333" stroke-width="1.75" />
<line x1="930.7" y1="900.3" x2="930.7" y2="1012" stroke="#333" stroke-width="1.75" />
<rect x="880.7" y="785.5" width="100" height="114.8" fill="#0000ff" stroke="#333" stroke-width="1.75" fill-opacity="0.25"/>
<line x1="880.7" y1="839.3" x2="980.7" y2="839.3" stroke="#333" stroke-width="3.6" />
<line x1="717.0" y1="841.6" x2="1011.1" y2="841.6" stroke="#ff0000" stroke-opacity="0.45" stroke-width="1.2"/>
<text transform="translate(797.1 825.7) scale(1.09 1)" font-size="18.4" text-anchor="middle" fill="#000" font-family='"Liberation Sans", sans-serif' >n = 9,616</text>
<text transform="translate(797.1 876.1) scale(1.09 1)" font-size="18.4" text-anchor="middle" fill="#000" font-family='"Liberation Sans", sans-serif' >$8,118</text>
<text transform="translate(930.7 821.6) scale(1.09 1)" font-size="18.4" text-anchor="middle" fill="#000" font-family='"Liberation Sans", sans-serif' >n = 9,908</text>
<text transform="translate(930.7 872.9) scale(1.09 1)" font-size="18.4" text-anchor="middle" fill="#000" font-family='"Liberation Sans", sans-serif' >$9,031</text>
<rect x="717" y="616.8" width="294.1" height="414.7" fill="none" stroke="#8c8c8c" stroke-width="1.6" />
<path d="M716.2 1031.5H1011.9" fill="none" stroke="#333" stroke-width="1.7"/>
<line x1="797" y1="1031.5" x2="797" y2="1037" stroke="#333" stroke-width="1.5" />
<text transform="translate(797 1057.6) scale(1.18 1)" font-size="22.8" text-anchor="middle" fill="#4d4d4d" font-family='"Liberation Sans", sans-serif' >Female</text>
<line x1="930.7" y1="1031.5" x2="930.7" y2="1037" stroke="#333" stroke-width="1.5" />
<text transform="translate(930.7 1057.6) scale(1.18 1)" font-size="22.8" text-anchor="middle" fill="#4d4d4d" font-family='"Liberation Sans", sans-serif' >Male</text>
<line x1="712" y1="1014.6" x2="717" y2="1014.6" stroke="#1a1a1a" stroke-width="1.6" />
<text transform="translate(696.4 1025.5) scale(1.11 1)" font-size="24" text-anchor="end" fill="#4d4d4d" font-family='"Liberation Sans", sans-serif' >$10</text>
<text transform="translate(695.9 1012.9) scale(1.15 1)" font-size="15.8" text-anchor="start" fill="#4d4d4d" font-family='"Liberation Sans", sans-serif' >2</text>
<line x1="712" y1="925" x2="717" y2="925" stroke="#1a1a1a" stroke-width="1.6" />
<text transform="translate(696.4 935.9) scale(1.11 1)" font-size="24" text-anchor="end" fill="#4d4d4d" font-family='"Liberation Sans", sans-serif' >$10</text>
<text transform="translate(695.9 923.3) scale(1.15 1)" font-size="15.8" text-anchor="start" fill="#4d4d4d" font-family='"Liberation Sans", sans-serif' >3</text>
<line x1="712" y1="835.4" x2="717" y2="835.4" stroke="#1a1a1a" stroke-width="1.6" />
<text transform="translate(696.4 846.3) scale(1.11 1)" font-size="24" text-anchor="end" fill="#4d4d4d" font-family='"Liberation Sans", sans-serif' >$10</text>
<text transform="translate(695.9 833.7) scale(1.15 1)" font-size="15.8" text-anchor="start" fill="#4d4d4d" font-family='"Liberation Sans", sans-serif' >4</text>
<line x1="712" y1="745.8" x2="717" y2="745.8" stroke="#1a1a1a" stroke-width="1.6" />
<text transform="translate(696.4 756.7) scale(1.11 1)" font-size="24" text-anchor="end" fill="#4d4d4d" font-family='"Liberation Sans", sans-serif' >$10</text>
<text transform="translate(695.9 744.1) scale(1.15 1)" font-size="15.8" text-anchor="start" fill="#4d4d4d" font-family='"Liberation Sans", sans-serif' >5</text>
<line x1="712" y1="656.2" x2="717" y2="656.2" stroke="#1a1a1a" stroke-width="1.6" />
<text transform="translate(696.4 667.1) scale(1.11 1)" font-size="24" text-anchor="end" fill="#4d4d4d" font-family='"Liberation Sans", sans-serif' >$10</text>
<text transform="translate(695.9 654.5) scale(1.15 1)" font-size="15.8" text-anchor="start" fill="#4d4d4d" font-family='"Liberation Sans", sans-serif' >6</text>
<text transform="translate(639.8 822.9) rotate(-90) scale(1 1.13)" font-size="30" text-anchor="middle" fill="#000" font-family='"Liberation Sans", sans-serif' >1 year expenditure</text>
<rect x="1148.4" y="594.9" width="854.6" height="450.8" fill="#fff" stroke="none" stroke-width="1" />
<line x1="1148.4" y1="979.2" x2="2003" y2="979.2" stroke="#eeeeee" stroke-width="0.8" />
<line x1="1148.4" y1="881.6" x2="2003" y2="881.6" stroke="#eeeeee" stroke-width="0.8" />
<line x1="1148.4" y1="784" x2="2003" y2="784" stroke="#eeeeee" stroke-width="0.8" />
<line x1="1148.4" y1="686.4" x2="2003" y2="686.4" stroke="#eeeeee" stroke-width="0.8" />
<line x1="1148.4" y1="1028" x2="2003" y2="1028" stroke="#e1e1e1" stroke-width="1.4" />
<line x1="1148.4" y1="930.4" x2="2003" y2="930.4" stroke="#e1e1e1" stroke-width="1.4" />
<line x1="1148.4" y1="832.8" x2="2003" y2="832.8" stroke="#e1e1e1" stroke-width="1.4" />
<line x1="1148.4" y1="735.2" x2="2003" y2="735.2" stroke="#e1e1e1" stroke-width="1.4" />
<line x1="1148.4" y1="637.6" x2="2003" y2="637.6" stroke="#e1e1e1" stroke-width="1.4" />
<line x1="1174.5" y1="594.9" x2="1174.5" y2="1045.7" stroke="#e1e1e1" stroke-width="1.4" />
<line x1="1225.2" y1="594.9" x2="1225.2" y2="1045.7" stroke="#e1e1e1" stroke-width="1.4" />
<line x1="1275.9" y1="594.9" x2="1275.9" y2="1045.7" stroke="#e1e1e1" stroke-width="1.4" />
<line x1="1326.6" y1="594.9" x2="1326.6" y2="1045.7" stroke="#e1e1e1" stroke-width="1.4" />
<line x1="1377.3" y1="594.9" x2="1377.3" y2="1045.7" stroke="#e1e1e1" stroke-width="1.4" />
<line x1="1428" y1="594.9" x2="1428" y2="1045.7" stroke="#e1e1e1" stroke-width="1.4" />
<line x1="1478.7" y1="594.9" x2="1478.7" y2="1045.7" stroke="#e1e1e1" stroke-width="1.4" />
<line x1="1529.4" y1="594.9" x2="1529.4" y2="1045.7" stroke="#e1e1e1" stroke-width="1.4" />
<line x1="1580.1" y1="594.9" x2="1580.1" y2="1045.7" stroke="#e1e1e1" stroke-width="1.4" />
<line x1="1630.8" y1="594.9" x2="1630.8" y2="1045.7" stroke="#e1e1e1" stroke-width="1.4" />
<line x1="1681.5" y1="594.9" x2="1681.5" y2="1045.7" stroke="#e1e1e1" stroke-width="1.4" />
<line x1="1732.2" y1="594.9" x2="1732.2" y2="1045.7" stroke="#e1e1e1" stroke-width="1.4" />
<line x1="1782.9" y1="594.9" x2="1782.9" y2="1045.7" stroke="#e1e1e1" stroke-width="1.4" />
<line x1="1833.6" y1="594.9" x2="1833.6" y2="1045.7" stroke="#e1e1e1" stroke-width="1.4" />
<line x1="1884.3" y1="594.9" x2="1884.3" y2="1045.7" stroke="#e1e1e1" stroke-width="1.4" />
<line x1="1935" y1="594.9" x2="1935" y2="1045.7" stroke="#e1e1e1" stroke-width="1.4" />
<line x1="1985.7" y1="594.9" x2="1985.7" y2="1045.7" stroke="#e1e1e1" stroke-width="1.4" />
<path d="M1148.4 1043.12h5.7M1148.4 1037.46h5.7M1148.4 1032.47h5.7M1148.4 1028.00h15.4M1148.4 998.62h5.7M1148.4 981.43h5.7M1148.4 969.24h5.7M1148.4 959.78h10.7M1148.4 952.05h5.7M1148.4 945.52h5.7M1148.4 939.86h5.7M1148.4 934.87h5.7M1148.4 930.40h15.4M1148.4 901.02h5.7M1148.4 883.83h5.7M1148.4 871.64h5.7M1148.4 862.18h10.7M1148.4 854.45h5.7M1148.4 847.92h5.7M1148.4 842.26h5.7M1148.4 837.27h5.7M1148.4 832.80h15.4M1148.4 803.42h5.7M1148.4 786.23h5.7M1148.4 774.04h5.7M1148.4 764.58h10.7M1148.4 756.85h5.7M1148.4 750.32h5.7M1148.4 744.66h5.7M1148.4 739.67h5.7M1148.4 735.20h15.4M1148.4 705.82h5.7M1148.4 688.63h5.7M1148.4 676.44h5.7M1148.4 666.98h10.7M1148.4 659.25h5.7M1148.4 652.72h5.7M1148.4 647.06h5.7M1148.4 642.07h5.7M1148.4 637.60h15.4M1148.4 608.22h5.7" stroke="#111" stroke-width="1.6" fill="none"/>
<path d="M2003 1043.12h-5.7M2003 1037.46h-5.7M2003 1032.47h-5.7M2003 1028.00h-15.4M2003 998.62h-5.7M2003 981.43h-5.7M2003 969.24h-5.7M2003 959.78h-10.7M2003 952.05h-5.7M2003 945.52h-5.7M2003 939.86h-5.7M2003 934.87h-5.7M2003 930.40h-15.4M2003 901.02h-5.7M2003 883.83h-5.7M2003 871.64h-5.7M2003 862.18h-10.7M2003 854.45h-5.7M2003 847.92h-5.7M2003 842.26h-5.7M2003 837.27h-5.7M2003 832.80h-15.4M2003 803.42h-5.7M2003 786.23h-5.7M2003 774.04h-5.7M2003 764.58h-10.7M2003 756.85h-5.7M2003 750.32h-5.7M2003 744.66h-5.7M2003 739.67h-5.7M2003 735.20h-15.4M2003 705.82h-5.7M2003 688.63h-5.7M2003 676.44h-5.7M2003 666.98h-10.7M2003 659.25h-5.7M2003 652.72h-5.7M2003 647.06h-5.7M2003 642.07h-5.7M2003 637.60h-15.4M2003 608.22h-5.7" stroke="#111" stroke-width="1.6" fill="none"/>
<path d="M1154.2 673.4V815.0M1154.2 914.8V951.8M1164.4 711.1V833.4M1164.4 927.0V1021.6M1174.5 752.0V857.9M1174.5 930.5V963.8M1184.6 725.0V848.5M1184.6 930.5V1023.4M1194.8 666.7V820.7M1194.8 929.8V1001.0M1204.9 685.3V831.1M1204.9 930.5V1021.6M1215.1 684.5V832.5M1215.1 932.1V965.6M1225.2 692.9V831.6M1225.2 929.4V965.6M1235.3 703.1V835.5M1235.3 928.7V1013.5M1245.5 685.3V827.0M1245.5 928.2V963.8M1255.6 674.5V827.0M1255.6 931.9V966.8M1265.8 707.0V839.5M1265.8 929.4V965.6M1275.9 716.8V840.8M1275.9 926.8V965.2M1286.0 659.9V817.3M1286.0 928.2V1023.4M1296.2 686.1V826.3M1296.2 924.5V965.2M1306.3 694.3V828.1M1306.3 922.9V963.8M1316.5 705.1V829.8M1316.5 923.6V963.8M1326.6 659.5V818.7M1326.6 926.8V1025.0M1336.7 690.2V831.6M1336.7 928.7V965.2M1346.9 677.5V819.4M1346.9 920.8V963.8M1357.0 661.0V815.4M1357.0 926.8V1013.5M1367.2 666.3V807.8M1367.2 921.7V973.3M1377.3 659.5V806.2M1377.3 924.5V963.8M1387.4 656.1V794.6M1387.4 922.4V984.1M1397.6 661.4V802.7M1397.6 923.6V985.7M1407.7 657.5V798.6M1407.7 907.6V1023.4M1417.9 625.2V796.9M1417.9 917.8V970.3M1428.0 656.9V780.6M1428.0 902.8V963.8M1438.1 655.8V785.7M1438.1 909.9V1021.6M1448.3 639.1V772.4M1448.3 901.6V965.2M1458.4 640.7V781.6M1458.4 903.7V963.3M1468.6 655.8V779.2M1468.6 900.9V963.3M1478.7 631.3V783.9M1478.7 904.2V963.8M1488.8 626.4V782.6M1488.8 897.5V965.2M1499.0 615.6V779.6M1499.0 899.3V1025.0M1509.1 642.8V792.5M1509.1 903.2V965.2M1519.3 654.2V769.6M1519.3 893.1V994.5M1529.4 629.9V777.1M1529.4 900.9V965.2M1539.5 649.9V784.3M1539.5 891.5V994.1M1549.7 637.4V761.4M1549.7 881.1V960.3M1559.8 656.1V758.7M1559.8 878.5V963.3M1570.0 633.1V774.7M1570.0 884.8V996.8M1580.1 638.5V763.8M1580.1 881.7V976.7M1590.2 658.5V765.9M1590.2 881.1V973.7M1600.4 644.2V769.6M1600.4 877.1V1025.0M1610.5 640.3V770.0M1610.5 872.3V963.8M1620.7 651.1V770.2M1620.7 876.0V963.8M1630.8 637.0V763.8M1630.8 872.7V1023.4M1640.9 647.1V763.4M1640.9 877.4V965.2M1651.1 632.1V757.5M1651.1 869.5V963.8M1661.2 672.2V763.4M1661.2 870.2V965.2M1671.4 659.5V767.7M1671.4 883.4V1020.0M1681.5 651.8V762.0M1681.5 858.9V963.8M1691.6 652.4V765.7M1691.6 864.2V940.2M1701.8 671.2V772.0M1701.8 871.1V963.3M1711.9 634.2V763.4M1711.9 860.5V963.8M1722.1 675.9V764.2M1722.1 867.4V958.0M1732.2 686.5V759.3M1732.2 865.1V960.6M1742.3 667.7V776.7M1742.3 858.6V963.8M1752.5 672.0V777.3M1752.5 857.5V963.8M1762.6 683.7V786.7M1762.6 864.4V963.8M1772.8 672.4V775.1M1772.8 864.6V964.7M1782.9 664.2V774.9M1782.9 867.0V939.5M1793.0 682.6V774.7M1793.0 859.8V963.8M1803.2 689.0V781.2M1803.2 862.6V963.8M1813.3 678.1V778.1M1813.3 848.7V948.3M1823.5 703.1V774.5M1823.5 855.4V935.6M1833.6 694.3V779.2M1833.6 862.6V955.7M1843.7 695.7V785.3M1843.7 878.5V962.4M1853.9 700.0V779.2M1853.9 851.2V943.0M1864.0 681.0V783.7M1864.0 865.6V952.5M1874.2 708.6V783.3M1874.2 854.9V931.4M1884.3 717.6V786.7M1884.3 861.6V940.7M1894.4 698.6V792.5M1894.4 870.9V931.9M1904.6 689.2V775.7M1904.6 844.5V943.7M1914.7 720.3V788.8M1914.7 855.6V937.4M1924.9 714.7V788.8M1924.9 844.1V926.4M1935.0 724.4V789.6M1935.0 859.3V922.4M1945.1 725.6V792.5M1945.1 843.6V917.3M1955.3 749.9V780.6M1955.3 824.7V867.4M1965.4 734.8V800.6M1965.4 855.4V931.4M1975.6 772.0V802.7M1975.6 841.8V864.6M1985.7 746.2V773.4M1985.7 829.3V873.2M1995.8 772.6V793.9M1995.8 823.5V831.6" stroke="#2b2b2b" stroke-width="1.35" fill="none"/>
<path d="M1150.4 815.0H1158.0V914.8H1150.4ZM1160.6 833.4H1168.2V927.0H1160.6ZM1170.7 857.9H1178.3V930.5H1170.7ZM1180.8 848.5H1188.4V930.5H1180.8ZM1191.0 820.7H1198.6V929.8H1191.0ZM1201.1 831.1H1208.7V930.5H1201.1ZM1211.3 832.5H1218.9V932.1H1211.3ZM1221.4 831.6H1229.0V929.4H1221.4ZM1231.5 835.5H1239.1V928.7H1231.5ZM1241.7 827.0H1249.3V928.2H1241.7ZM1251.8 827.0H1259.4V931.9H1251.8ZM1262.0 839.5H1269.6V929.4H1262.0ZM1272.1 840.8H1279.7V926.8H1272.1ZM1282.2 817.3H1289.8V928.2H1282.2ZM1292.4 826.3H1300.0V924.5H1292.4ZM1302.5 828.1H1310.1V922.9H1302.5ZM1312.7 829.8H1320.3V923.6H1312.7ZM1322.8 818.7H1330.4V926.8H1322.8ZM1332.9 831.6H1340.5V928.7H1332.9ZM1343.1 819.4H1350.7V920.8H1343.1ZM1353.2 815.4H1360.8V926.8H1353.2ZM1363.4 807.8H1371.0V921.7H1363.4ZM1373.5 806.2H1381.1V924.5H1373.5ZM1383.6 794.6H1391.2V922.4H1383.6ZM1393.8 802.7H1401.4V923.6H1393.8ZM1403.9 798.6H1411.5V907.6H1403.9ZM1414.1 796.9H1421.7V917.8H1414.1ZM1424.2 780.6H1431.8V902.8H1424.2ZM1434.3 785.7H1441.9V909.9H1434.3ZM1444.5 772.4H1452.1V901.6H1444.5ZM1454.6 781.6H1462.2V903.7H1454.6ZM1464.8 779.2H1472.4V900.9H1464.8ZM1474.9 783.9H1482.5V904.2H1474.9ZM1485.0 782.6H1492.6V897.5H1485.0ZM1495.2 779.6H1502.8V899.3H1495.2ZM1505.3 792.5H1512.9V903.2H1505.3ZM1515.5 769.6H1523.1V893.1H1515.5ZM1525.6 777.1H1533.2V900.9H1525.6ZM1535.7 784.3H1543.3V891.5H1535.7ZM1545.9 761.4H1553.5V881.1H1545.9ZM1556.0 758.7H1563.6V878.5H1556.0ZM1566.2 774.7H1573.8V884.8H1566.2ZM1576.3 763.8H1583.9V881.7H1576.3ZM1586.4 765.9H1594.0V881.1H1586.4ZM1596.6 769.6H1604.2V877.1H1596.6ZM1606.7 770.0H1614.3V872.3H1606.7ZM1616.9 770.2H1624.5V876.0H1616.9ZM1627.0 763.8H1634.6V872.7H1627.0ZM1637.1 763.4H1644.7V877.4H1637.1ZM1647.3 757.5H1654.9V869.5H1647.3ZM1657.4 763.4H1665.0V870.2H1657.4ZM1667.6 767.7H1675.2V883.4H1667.6ZM1677.7 762.0H1685.3V858.9H1677.7ZM1687.8 765.7H1695.4V864.2H1687.8ZM1698.0 772.0H1705.6V871.1H1698.0ZM1708.1 763.4H1715.7V860.5H1708.1ZM1718.3 764.2H1725.9V867.4H1718.3ZM1728.4 759.3H1736.0V865.1H1728.4ZM1738.5 776.7H1746.1V858.6H1738.5ZM1748.7 777.3H1756.3V857.5H1748.7ZM1758.8 786.7H1766.4V864.4H1758.8ZM1769.0 775.1H1776.6V864.6H1769.0ZM1779.1 774.9H1786.7V867.0H1779.1ZM1789.2 774.7H1796.8V859.8H1789.2ZM1799.4 781.2H1807.0V862.6H1799.4ZM1809.5 778.1H1817.1V848.7H1809.5ZM1819.7 774.5H1827.3V855.4H1819.7ZM1829.8 779.2H1837.4V862.6H1829.8ZM1839.9 785.3H1847.5V878.5H1839.9ZM1850.1 779.2H1857.7V851.2H1850.1ZM1860.2 783.7H1867.8V865.6H1860.2ZM1870.4 783.3H1878.0V854.9H1870.4ZM1880.5 786.7H1888.1V861.6H1880.5ZM1890.6 792.5H1898.2V870.9H1890.6ZM1900.8 775.7H1908.4V844.5H1900.8ZM1910.9 788.8H1918.5V855.6H1910.9ZM1921.1 788.8H1928.7V844.1H1921.1ZM1931.2 789.6H1938.8V859.3H1931.2ZM1941.3 792.5H1948.9V843.6H1941.3ZM1951.5 780.6H1959.1V824.7H1951.5ZM1961.6 800.6H1969.2V855.4H1961.6ZM1971.8 802.7H1979.4V841.8H1971.8ZM1981.9 773.4H1989.5V829.3H1981.9ZM1992.0 793.9H1999.6V823.5H1992.0Z" fill="#0000ff" fill-opacity="0.25" stroke="#2b2b2b" stroke-width="1.6"/>
<path d="M1150.4 872.5H1158.0M1160.6 901.6H1168.2M1170.7 904.4H1178.3M1180.8 902.8H1188.4M1191.0 900.5H1198.6M1201.1 900.9H1208.7M1211.3 909.0H1218.9M1221.4 899.3H1229.0M1231.5 897.9H1239.1M1241.7 900.5H1249.3M1251.8 902.5H1259.4M1262.0 897.5H1269.6M1272.1 899.5H1279.7M1282.2 889.8H1289.8M1292.4 885.4H1300.0M1302.5 890.5H1310.1M1312.7 891.7H1320.3M1322.8 891.0H1330.4M1332.9 896.3H1340.5M1343.1 885.9H1350.7M1353.2 887.8H1360.8M1363.4 884.1H1371.0M1373.5 890.1H1381.1M1383.6 880.6H1391.2M1393.8 873.7H1401.4M1403.9 864.4H1411.5M1414.1 864.4H1421.7M1424.2 844.8H1431.8M1434.3 857.3H1441.9M1444.5 837.6H1452.1M1454.6 854.5H1462.2M1464.8 847.8H1472.4M1474.9 844.8H1482.5M1485.0 838.5H1492.6M1495.2 835.1H1502.8M1505.3 847.3H1512.9M1515.5 836.2H1523.1M1525.6 843.4H1533.2M1535.7 837.1H1543.3M1545.9 815.0H1553.5M1556.0 819.4H1563.6M1566.2 833.2H1573.8M1576.3 824.0H1583.9M1586.4 815.0H1594.0M1596.6 822.8H1604.2M1606.7 818.2H1614.3M1616.9 818.2H1624.5M1627.0 814.0H1634.6M1637.1 812.6H1644.7M1647.3 805.7H1654.9M1657.4 803.9H1665.0M1667.6 825.6H1675.2M1677.7 810.3H1685.3M1687.8 817.3H1695.4M1698.0 821.2H1705.6M1708.1 810.3H1715.7M1718.3 819.6H1725.9M1728.4 805.3H1736.0M1738.5 813.1H1746.1M1748.7 815.0H1756.3M1758.8 829.3H1766.4M1769.0 826.3H1776.6M1779.1 813.1H1786.7M1789.2 816.3H1796.8M1799.4 821.4H1807.0M1809.5 811.5H1817.1M1819.7 813.6H1827.3M1829.8 816.1H1837.4M1839.9 823.7H1847.5M1850.1 815.0H1857.7M1860.2 824.2H1867.8M1870.4 820.0H1878.0M1880.5 820.3H1888.1M1890.6 819.8H1898.2M1900.8 807.3H1908.4M1910.9 829.5H1918.5M1921.1 816.6H1928.7M1931.2 817.5H1938.8M1941.3 814.7H1948.9M1951.5 811.5H1959.1M1961.6 835.8H1969.2M1971.8 812.4H1979.4M1981.9 789.1H1989.5M1992.0 796.9H1999.6" stroke="#2b2b2b" stroke-width="3" fill="none"/>
<g fill="#000" fill-opacity="0.2" stroke="#000" stroke-opacity="0.28" stroke-width="0.8"><circle cx="1154.2" cy="655.0" r="3.4"/><circle cx="1164.4" cy="686.1" r="3.4"/><circle cx="1174.5" cy="620.3" r="3.4"/><circle cx="1174.5" cy="694.3" r="3.4"/><circle cx="1174.5" cy="698.4" r="3.4"/><circle cx="1174.5" cy="718.8" r="3.4"/><circle cx="1174.5" cy="741.9" r="3.4"/><circle cx="1184.6" cy="655.8" r="3.4"/><circle cx="1184.6" cy="669.1" r="3.4"/><circle cx="1184.6" cy="670.2" r="3.4"/><circle cx="1184.6" cy="697.0" r="3.4"/><circle cx="1184.6" cy="698.0" r="3.4"/><circle cx="1184.6" cy="713.3" r="3.4"/><circle cx="1184.6" cy="714.3" r="3.4"/><circle cx="1184.6" cy="722.9" r="3.4"/><circle cx="1194.8" cy="651.8" r="3.4"/><circle cx="1194.8" cy="653.4" r="3.4"/><circle cx="1204.9" cy="643.6" r="3.4"/><circle cx="1204.9" cy="647.7" r="3.4"/><circle cx="1204.9" cy="661.4" r="3.4"/><circle cx="1204.9" cy="670.8" r="3.4"/><circle cx="1204.9" cy="676.5" r="3.4"/><circle cx="1215.1" cy="642.4" r="3.4"/><circle cx="1215.1" cy="653.0" r="3.4"/><circle cx="1215.1" cy="674.3" r="3.4"/><circle cx="1215.1" cy="681.0" r="3.4"/><circle cx="1225.2" cy="646.4" r="3.4"/><circle cx="1225.2" cy="654.6" r="3.4"/><circle cx="1225.2" cy="655.4" r="3.4"/><circle cx="1225.2" cy="671.4" r="3.4"/><circle cx="1235.3" cy="637.6" r="3.4"/><circle cx="1235.3" cy="656.3" r="3.4"/><circle cx="1235.3" cy="692.2" r="3.4"/><circle cx="1245.5" cy="669.8" r="3.4"/><circle cx="1265.8" cy="651.6" r="3.4"/><circle cx="1265.8" cy="685.1" r="3.4"/><circle cx="1265.8" cy="689.6" r="3.4"/><circle cx="1265.8" cy="700.4" r="3.4"/><circle cx="1275.9" cy="673.2" r="3.4"/><circle cx="1275.9" cy="686.9" r="3.4"/><circle cx="1275.9" cy="694.3" r="3.4"/><circle cx="1275.9" cy="695.5" r="3.4"/><circle cx="1275.9" cy="709.6" r="3.4"/><circle cx="1275.9" cy="710.7" r="3.4"/><circle cx="1296.2" cy="636.6" r="3.4"/><circle cx="1296.2" cy="637.6" r="3.4"/><circle cx="1296.2" cy="665.7" r="3.4"/><circle cx="1306.3" cy="645.0" r="3.4"/><circle cx="1306.3" cy="669.8" r="3.4"/><circle cx="1306.3" cy="673.4" r="3.4"/><circle cx="1306.3" cy="682.6" r="3.4"/><circle cx="1316.5" cy="651.1" r="3.4"/><circle cx="1316.5" cy="670.4" r="3.4"/><circle cx="1316.5" cy="671.6" r="3.4"/><circle cx="1316.5" cy="683.7" r="3.4"/><circle cx="1326.6" cy="645.0" r="3.4"/><circle cx="1336.7" cy="656.9" r="3.4"/><circle cx="1336.7" cy="661.6" r="3.4"/><circle cx="1336.7" cy="685.3" r="3.4"/><circle cx="1346.9" cy="657.5" r="3.4"/><circle cx="1346.9" cy="665.1" r="3.4"/><circle cx="1367.2" cy="621.1" r="3.4"/><circle cx="1407.7" cy="626.6" r="3.4"/><circle cx="1874.2" cy="665.1" r="3.4"/><circle cx="1874.2" cy="673.8" r="3.4"/><circle cx="1924.9" cy="686.7" r="3.4"/><circle cx="1924.9" cy="930.5" r="3.4"/><circle cx="1924.9" cy="943.7" r="3.4"/><circle cx="1955.3" cy="896.8" r="3.4"/><circle cx="1955.3" cy="934.0" r="3.4"/><circle cx="1975.6" cy="905.1" r="3.4"/></g>
<line x1="1148.4" y1="839.7" x2="2003.0" y2="839.7" stroke="#ff0000" stroke-opacity="0.55" stroke-width="1.3"/>
<rect x="1148.4" y="594.9" width="854.6" height="450.8" fill="none" stroke="#969696" stroke-width="1.6" />
<path d="M1147.6000000000001 1045.7H2003.8" fill="none" stroke="#333" stroke-width="1.7"/>
<line x1="1174.5" y1="1045.7" x2="1174.5" y2="1050.7" stroke="#333" stroke-width="1.3" />
<text transform="translate(1174.5 1074.8) scale(0.98 1)" font-size="23.8" text-anchor="middle" fill="#4d4d4d" font-family='"Liberation Sans", sans-serif' >20</text>
<line x1="1225.2" y1="1045.7" x2="1225.2" y2="1050.7" stroke="#333" stroke-width="1.3" />
<text transform="translate(1225.2 1074.8) scale(0.98 1)" font-size="23.8" text-anchor="middle" fill="#4d4d4d" font-family='"Liberation Sans", sans-serif' >25</text>
<line x1="1275.9" y1="1045.7" x2="1275.9" y2="1050.7" stroke="#333" stroke-width="1.3" />
<text transform="translate(1275.9 1074.8) scale(0.98 1)" font-size="23.8" text-anchor="middle" fill="#4d4d4d" font-family='"Liberation Sans", sans-serif' >30</text>
<line x1="1326.6" y1="1045.7" x2="1326.6" y2="1050.7" stroke="#333" stroke-width="1.3" />
<text transform="translate(1326.6 1074.8) scale(0.98 1)" font-size="23.8" text-anchor="middle" fill="#4d4d4d" font-family='"Liberation Sans", sans-serif' >35</text>
<line x1="1377.3" y1="1045.7" x2="1377.3" y2="1050.7" stroke="#333" stroke-width="1.3" />
<text transform="translate(1377.3 1074.8) scale(0.98 1)" font-size="23.8" text-anchor="middle" fill="#4d4d4d" font-family='"Liberation Sans", sans-serif' >40</text>
<line x1="1428" y1="1045.7" x2="1428" y2="1050.7" stroke="#333" stroke-width="1.3" />
<text transform="translate(1428 1074.8) scale(0.98 1)" font-size="23.8" text-anchor="middle" fill="#4d4d4d" font-family='"Liberation Sans", sans-serif' >45</text>
<line x1="1478.7" y1="1045.7" x2="1478.7" y2="1050.7" stroke="#333" stroke-width="1.3" />
<text transform="translate(1478.7 1074.8) scale(0.98 1)" font-size="23.8" text-anchor="middle" fill="#4d4d4d" font-family='"Liberation Sans", sans-serif' >50</text>
<line x1="1529.4" y1="1045.7" x2="1529.4" y2="1050.7" stroke="#333" stroke-width="1.3" />
<text transform="translate(1529.4 1074.8) scale(0.98 1)" font-size="23.8" text-anchor="middle" fill="#4d4d4d" font-family='"Liberation Sans", sans-serif' >55</text>
<line x1="1580.1" y1="1045.7" x2="1580.1" y2="1050.7" stroke="#333" stroke-width="1.3" />
<text transform="translate(1580.1 1074.8) scale(0.98 1)" font-size="23.8" text-anchor="middle" fill="#4d4d4d" font-family='"Liberation Sans", sans-serif' >60</text>
<line x1="1630.8" y1="1045.7" x2="1630.8" y2="1050.7" stroke="#333" stroke-width="1.3" />
<text transform="translate(1630.8 1074.8) scale(0.98 1)" font-size="23.8" text-anchor="middle" fill="#4d4d4d" font-family='"Liberation Sans", sans-serif' >65</text>
<line x1="1681.5" y1="1045.7" x2="1681.5" y2="1050.7" stroke="#333" stroke-width="1.3" />
<text transform="translate(1681.5 1074.8) scale(0.98 1)" font-size="23.8" text-anchor="middle" fill="#4d4d4d" font-family='"Liberation Sans", sans-serif' >70</text>
<line x1="1732.2" y1="1045.7" x2="1732.2" y2="1050.7" stroke="#333" stroke-width="1.3" />
<text transform="translate(1732.2 1074.8) scale(0.98 1)" font-size="23.8" text-anchor="middle" fill="#4d4d4d" font-family='"Liberation Sans", sans-serif' >75</text>
<line x1="1782.9" y1="1045.7" x2="1782.9" y2="1050.7" stroke="#333" stroke-width="1.3" />
<text transform="translate(1782.9 1074.8) scale(0.98 1)" font-size="23.8" text-anchor="middle" fill="#4d4d4d" font-family='"Liberation Sans", sans-serif' >80</text>
<line x1="1833.6" y1="1045.7" x2="1833.6" y2="1050.7" stroke="#333" stroke-width="1.3" />
<text transform="translate(1833.6 1074.8) scale(0.98 1)" font-size="23.8" text-anchor="middle" fill="#4d4d4d" font-family='"Liberation Sans", sans-serif' >85</text>
<line x1="1884.3" y1="1045.7" x2="1884.3" y2="1050.7" stroke="#333" stroke-width="1.3" />
<text transform="translate(1884.3 1074.8) scale(0.98 1)" font-size="23.8" text-anchor="middle" fill="#4d4d4d" font-family='"Liberation Sans", sans-serif' >90</text>
<line x1="1935" y1="1045.7" x2="1935" y2="1050.7" stroke="#333" stroke-width="1.3" />
<text transform="translate(1935 1074.8) scale(0.98 1)" font-size="23.8" text-anchor="middle" fill="#4d4d4d" font-family='"Liberation Sans", sans-serif' >95</text>
<line x1="1985.7" y1="1045.7" x2="1985.7" y2="1050.7" stroke="#333" stroke-width="1.3" />
<text transform="translate(1985.7 1074.8) scale(0.98 1)" font-size="23.8" text-anchor="middle" fill="#4d4d4d" font-family='"Liberation Sans", sans-serif' >100</text>
<line x1="1143.9" y1="1028" x2="1148.4" y2="1028" stroke="#111" stroke-width="1.6" />
<text transform="translate(1129.2 1041) scale(0.94 1)" font-size="24.3" text-anchor="end" fill="#4d4d4d" font-family='"Liberation Sans", sans-serif' >$10</text>
<text transform="translate(1128.9 1027.5) scale(0.94 1)" font-size="15.5" text-anchor="start" fill="#4d4d4d" font-family='"Liberation Sans", sans-serif' >2</text>
<line x1="1143.9" y1="930.4" x2="1148.4" y2="930.4" stroke="#111" stroke-width="1.6" />
<text transform="translate(1129.2 943.4) scale(0.94 1)" font-size="24.3" text-anchor="end" fill="#4d4d4d" font-family='"Liberation Sans", sans-serif' >$10</text>
<text transform="translate(1128.9 929.9) scale(0.94 1)" font-size="15.5" text-anchor="start" fill="#4d4d4d" font-family='"Liberation Sans", sans-serif' >3</text>
<line x1="1143.9" y1="832.8" x2="1148.4" y2="832.8" stroke="#111" stroke-width="1.6" />
<text transform="translate(1129.2 845.8) scale(0.94 1)" font-size="24.3" text-anchor="end" fill="#4d4d4d" font-family='"Liberation Sans", sans-serif' >$10</text>
<text transform="translate(1128.9 832.3) scale(0.94 1)" font-size="15.5" text-anchor="start" fill="#4d4d4d" font-family='"Liberation Sans", sans-serif' >4</text>
<line x1="1143.9" y1="735.2" x2="1148.4" y2="735.2" stroke="#111" stroke-width="1.6" />
<text transform="translate(1129.2 748.2) scale(0.94 1)" font-size="24.3" text-anchor="end" fill="#4d4d4d" font-family='"Liberation Sans", sans-serif' >$10</text>
<text transform="translate(1128.9 734.7) scale(0.94 1)" font-size="15.5" text-anchor="start" fill="#4d4d4d" font-family='"Liberation Sans", sans-serif' >5</text>
<line x1="1143.9" y1="637.6" x2="1148.4" y2="637.6" stroke="#111" stroke-width="1.6" />
<text transform="translate(1129.2 650.6) scale(0.94 1)" font-size="24.3" text-anchor="end" fill="#4d4d4d" font-family='"Liberation Sans", sans-serif' >$10</text>
<text transform="translate(1128.9 637.1) scale(0.94 1)" font-size="15.5" text-anchor="start" fill="#4d4d4d" font-family='"Liberation Sans", sans-serif' >6</text>
<text transform="translate(1575.2 1111.4) scale(0.93 1)" font-size="32.5" text-anchor="middle" fill="#000" font-family='"Liberation Sans", sans-serif' >age</text>
<text transform="translate(1079.9 821.4) rotate(-90) scale(1 0.87)" font-size="34" text-anchor="middle" fill="#000" font-family='"Liberation Sans", sans-serif' >1 year expenses, $</text>
</svg>
</body></html>
